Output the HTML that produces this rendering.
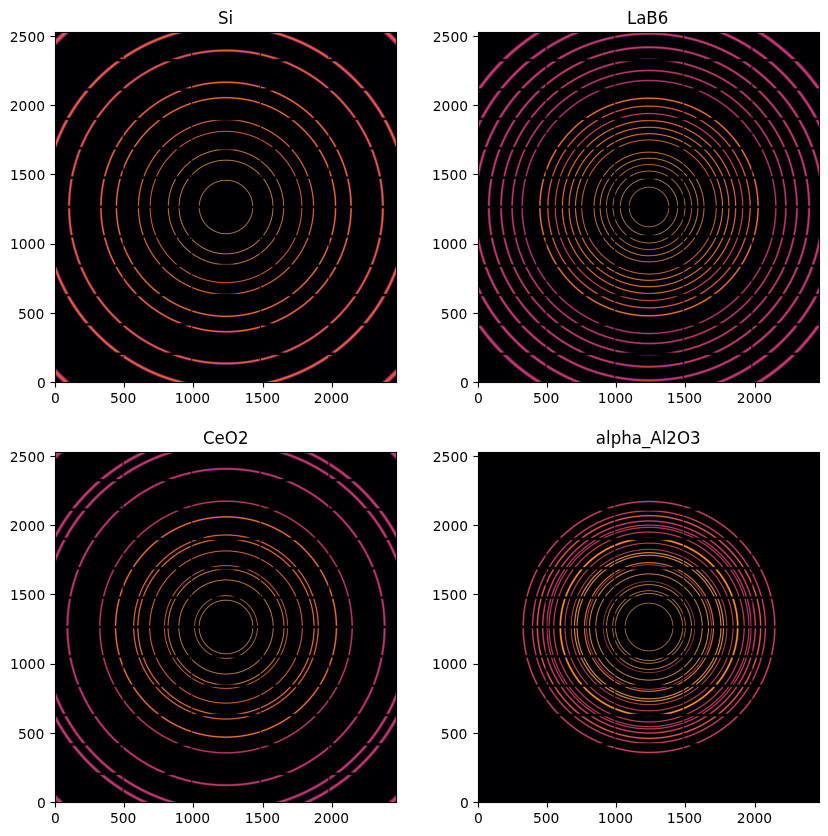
<!DOCTYPE html>
<html lang="en"><head><meta charset="utf-8"><title>Calibrant rings</title>
<style>
html,body{margin:0;padding:0;background:#fff}
body{width:828px;height:836px;position:relative;overflow:hidden;font-family:"DejaVu Sans","Liberation Sans",sans-serif;color:#000}
.ax{position:absolute;width:342px;height:351px;background:#000003}
.im{position:absolute;left:0;top:0;display:block}
.sp{position:absolute;width:344px;height:353px;background:#f1f1f1}
.bd{position:absolute;left:0;top:0;width:340px;height:349px;border:1px solid #000}
.t{position:absolute;white-space:nowrap;line-height:1}
.ti{font-size:16.667px;text-align:center;width:342px;transform-origin:50% 80%;transform:scale(1,1.1)}
.xl{font-size:13.889px;text-align:center;width:60px;margin-left:-30px}
.yl{font-size:13.889px;text-align:right;width:60px}
.xk{position:absolute;width:1px;height:5px;background:linear-gradient(to bottom,#000 0,#000 4px,rgba(0,0,0,.5) 4px);box-shadow:0 0 0 1px rgba(0,0,0,.055)}
.yk{position:absolute;height:1px;width:5px;background:linear-gradient(to left,#000 0,#000 4px,rgba(0,0,0,.5) 4px);box-shadow:0 0 0 1px rgba(0,0,0,.055)}
</style></head>
<body>
<div class="sp" style="left:54px;top:31px"></div>
<div class="ax" style="left:55px;top:32px"><svg class="im" width="342" height="351" viewBox="0 0 342 351"><defs><radialGradient id="g0" gradientUnits="userSpaceOnUse" cx="0" cy="0" r="247.370" gradientTransform="translate(171.000 175.000) scale(1.002533 1)"><stop offset="0.00000" stop-color="#000002"/><stop offset="0.00364" stop-color="#000003"/><stop offset="0.10296" stop-color="#000003"/><stop offset="0.10345" stop-color="#020104"/><stop offset="0.10385" stop-color="#060206"/><stop offset="0.10422" stop-color="#0c0608"/><stop offset="0.10458" stop-color="#150c0c"/><stop offset="0.10490" stop-color="#201310"/><stop offset="0.10527" stop-color="#2e1e16"/><stop offset="0.10559" stop-color="#3e2a1c"/><stop offset="0.10648" stop-color="#6a4b2d"/><stop offset="0.10672" stop-color="#755331"/><stop offset="0.10697" stop-color="#7f5a35"/><stop offset="0.10725" stop-color="#886138"/><stop offset="0.10749" stop-color="#8e653a"/><stop offset="0.10773" stop-color="#91683c"/><stop offset="0.10798" stop-color="#92693c"/><stop offset="0.10822" stop-color="#91683c"/><stop offset="0.10850" stop-color="#8d653a"/><stop offset="0.10874" stop-color="#876038"/><stop offset="0.10903" stop-color="#7d5934"/><stop offset="0.10927" stop-color="#745230"/><stop offset="0.10951" stop-color="#694a2c"/><stop offset="0.11032" stop-color="#402b1d"/><stop offset="0.11064" stop-color="#302017"/><stop offset="0.11101" stop-color="#211411"/><stop offset="0.11133" stop-color="#160d0c"/><stop offset="0.11170" stop-color="#0d0609"/><stop offset="0.11206" stop-color="#060306"/><stop offset="0.11246" stop-color="#020104"/><stop offset="0.11291" stop-color="#000003"/><stop offset="0.18402" stop-color="#000003"/><stop offset="0.18458" stop-color="#020104"/><stop offset="0.18503" stop-color="#060206"/><stop offset="0.18543" stop-color="#0d0509"/><stop offset="0.18583" stop-color="#180c0d"/><stop offset="0.18620" stop-color="#241411"/><stop offset="0.18660" stop-color="#362016"/><stop offset="0.18697" stop-color="#482d1b"/><stop offset="0.18786" stop-color="#794e28"/><stop offset="0.18810" stop-color="#84572c"/><stop offset="0.18834" stop-color="#8f5e2e"/><stop offset="0.18862" stop-color="#996531"/><stop offset="0.18887" stop-color="#9f6933"/><stop offset="0.18911" stop-color="#a36c34"/><stop offset="0.18935" stop-color="#a46d34"/><stop offset="0.18959" stop-color="#a36c34"/><stop offset="0.18988" stop-color="#9e6933"/><stop offset="0.19012" stop-color="#986431"/><stop offset="0.19040" stop-color="#8e5d2e"/><stop offset="0.19065" stop-color="#83562b"/><stop offset="0.19089" stop-color="#774d28"/><stop offset="0.19174" stop-color="#492d1c"/><stop offset="0.19206" stop-color="#392117"/><stop offset="0.19242" stop-color="#281612"/><stop offset="0.19279" stop-color="#1b0d0e"/><stop offset="0.19315" stop-color="#10070a"/><stop offset="0.19352" stop-color="#090307"/><stop offset="0.19388" stop-color="#040106"/><stop offset="0.19428" stop-color="#010004"/><stop offset="0.19509" stop-color="#000003"/><stop offset="0.22715" stop-color="#000003"/><stop offset="0.22772" stop-color="#020004"/><stop offset="0.22820" stop-color="#060207"/><stop offset="0.22844" stop-color="#0a0308"/><stop offset="0.22865" stop-color="#0e050a"/><stop offset="0.22905" stop-color="#190b0d"/><stop offset="0.22945" stop-color="#271311"/><stop offset="0.22986" stop-color="#391e16"/><stop offset="0.23026" stop-color="#4e2b1a"/><stop offset="0.23115" stop-color="#804b24"/><stop offset="0.23139" stop-color="#8d5326"/><stop offset="0.23164" stop-color="#985a28"/><stop offset="0.23192" stop-color="#a2612a"/><stop offset="0.23216" stop-color="#a9652b"/><stop offset="0.23245" stop-color="#ae682c"/><stop offset="0.23269" stop-color="#af692c"/><stop offset="0.23293" stop-color="#ad682c"/><stop offset="0.23321" stop-color="#a9652b"/><stop offset="0.23346" stop-color="#a2612a"/><stop offset="0.23374" stop-color="#975a28"/><stop offset="0.23398" stop-color="#8c5326"/><stop offset="0.23422" stop-color="#804b24"/><stop offset="0.23507" stop-color="#502c1b"/><stop offset="0.23548" stop-color="#3b1f16"/><stop offset="0.23588" stop-color="#281312"/><stop offset="0.23625" stop-color="#1b0c0e"/><stop offset="0.23661" stop-color="#10060b"/><stop offset="0.23701" stop-color="#080308"/><stop offset="0.23742" stop-color="#030106"/><stop offset="0.23790" stop-color="#010004"/><stop offset="0.23875" stop-color="#000003"/><stop offset="0.30000" stop-color="#000003"/><stop offset="0.30064" stop-color="#020005"/><stop offset="0.30113" stop-color="#060208"/><stop offset="0.30137" stop-color="#09030a"/><stop offset="0.30161" stop-color="#0e040c"/><stop offset="0.30186" stop-color="#13060f"/><stop offset="0.30206" stop-color="#190811"/><stop offset="0.30226" stop-color="#200b13"/><stop offset="0.30250" stop-color="#290f16"/><stop offset="0.30295" stop-color="#3e181a"/><stop offset="0.30335" stop-color="#53231e"/><stop offset="0.30432" stop-color="#893d25"/><stop offset="0.30456" stop-color="#964326"/><stop offset="0.30481" stop-color="#a14927"/><stop offset="0.30509" stop-color="#ab4e28"/><stop offset="0.30533" stop-color="#b25129"/><stop offset="0.30562" stop-color="#b6542a"/><stop offset="0.30586" stop-color="#b8542a"/><stop offset="0.30610" stop-color="#b6542a"/><stop offset="0.30638" stop-color="#b25129"/><stop offset="0.30663" stop-color="#ab4e29"/><stop offset="0.30691" stop-color="#a04927"/><stop offset="0.30715" stop-color="#954326"/><stop offset="0.30739" stop-color="#893d25"/><stop offset="0.30832" stop-color="#55231e"/><stop offset="0.30873" stop-color="#3f191b"/><stop offset="0.30913" stop-color="#2c1017"/><stop offset="0.30950" stop-color="#1e0a13"/><stop offset="0.30986" stop-color="#13060f"/><stop offset="0.31026" stop-color="#0a030b"/><stop offset="0.31067" stop-color="#050107"/><stop offset="0.31111" stop-color="#010005"/><stop offset="0.31152" stop-color="#000003"/><stop offset="0.31216" stop-color="#000003"/><stop offset="0.34673" stop-color="#000003"/><stop offset="0.34741" stop-color="#020005"/><stop offset="0.34794" stop-color="#060209"/><stop offset="0.34818" stop-color="#0a030b"/><stop offset="0.34843" stop-color="#0f040e"/><stop offset="0.34867" stop-color="#150610"/><stop offset="0.34891" stop-color="#1c0913"/><stop offset="0.34911" stop-color="#230c16"/><stop offset="0.34936" stop-color="#2d1019"/><stop offset="0.34960" stop-color="#38151b"/><stop offset="0.34984" stop-color="#441b1e"/><stop offset="0.35016" stop-color="#552421"/><stop offset="0.35057" stop-color="#6d3023"/><stop offset="0.35134" stop-color="#994925"/><stop offset="0.35162" stop-color="#a85126"/><stop offset="0.35186" stop-color="#b45826"/><stop offset="0.35214" stop-color="#bf5e26"/><stop offset="0.35243" stop-color="#c76326"/><stop offset="0.35271" stop-color="#cc6526"/><stop offset="0.35299" stop-color="#ce6626"/><stop offset="0.35328" stop-color="#cc6526"/><stop offset="0.35356" stop-color="#c76226"/><stop offset="0.35384" stop-color="#be5e26"/><stop offset="0.35413" stop-color="#b35726"/><stop offset="0.35437" stop-color="#a85126"/><stop offset="0.35465" stop-color="#994826"/><stop offset="0.35542" stop-color="#6c2f24"/><stop offset="0.35578" stop-color="#572421"/><stop offset="0.35611" stop-color="#461c1f"/><stop offset="0.35655" stop-color="#30121a"/><stop offset="0.35679" stop-color="#260d17"/><stop offset="0.35700" stop-color="#1f0a14"/><stop offset="0.35720" stop-color="#180812"/><stop offset="0.35744" stop-color="#12050f"/><stop offset="0.35764" stop-color="#0d040d"/><stop offset="0.35788" stop-color="#09020a"/><stop offset="0.35837" stop-color="#030106"/><stop offset="0.35890" stop-color="#010004"/><stop offset="0.35987" stop-color="#000003"/><stop offset="0.43469" stop-color="#000003"/><stop offset="0.43546" stop-color="#020005"/><stop offset="0.43574" stop-color="#040107"/><stop offset="0.43603" stop-color="#06020a"/><stop offset="0.43631" stop-color="#0a030d"/><stop offset="0.43655" stop-color="#0f0410"/><stop offset="0.43684" stop-color="#160614"/><stop offset="0.43708" stop-color="#1d0818"/><stop offset="0.43744" stop-color="#2a0d1e"/><stop offset="0.43785" stop-color="#3c1424"/><stop offset="0.43829" stop-color="#521e29"/><stop offset="0.43882" stop-color="#702c2d"/><stop offset="0.43926" stop-color="#89392e"/><stop offset="0.43975" stop-color="#a4492d"/><stop offset="0.44007" stop-color="#b5532b"/><stop offset="0.44039" stop-color="#c45c29"/><stop offset="0.44076" stop-color="#d16526"/><stop offset="0.44112" stop-color="#dc6c23"/><stop offset="0.44132" stop-color="#e06e22"/><stop offset="0.44148" stop-color="#e27022"/><stop offset="0.44181" stop-color="#e47121"/><stop offset="0.44213" stop-color="#e27022"/><stop offset="0.44229" stop-color="#e06e22"/><stop offset="0.44250" stop-color="#dc6c23"/><stop offset="0.44286" stop-color="#d26526"/><stop offset="0.44322" stop-color="#c45c29"/><stop offset="0.44351" stop-color="#b7542c"/><stop offset="0.44383" stop-color="#a74a2e"/><stop offset="0.44431" stop-color="#8c3a2f"/><stop offset="0.44476" stop-color="#722d2e"/><stop offset="0.44524" stop-color="#571f2a"/><stop offset="0.44569" stop-color="#401525"/><stop offset="0.44605" stop-color="#300f20"/><stop offset="0.44642" stop-color="#220a1a"/><stop offset="0.44682" stop-color="#150614"/><stop offset="0.44727" stop-color="#0b030e"/><stop offset="0.44771" stop-color="#050109"/><stop offset="0.44824" stop-color="#010005"/><stop offset="0.44876" stop-color="#000003"/><stop offset="0.44945" stop-color="#000003"/><stop offset="0.49658" stop-color="#000003"/><stop offset="0.49735" stop-color="#020005"/><stop offset="0.49768" stop-color="#030108"/><stop offset="0.49796" stop-color="#06010a"/><stop offset="0.49824" stop-color="#0a020e"/><stop offset="0.49852" stop-color="#0f0412"/><stop offset="0.49881" stop-color="#150516"/><stop offset="0.49905" stop-color="#1c071b"/><stop offset="0.49945" stop-color="#2a0c22"/><stop offset="0.49990" stop-color="#3c122a"/><stop offset="0.50046" stop-color="#581c32"/><stop offset="0.50099" stop-color="#742937"/><stop offset="0.50135" stop-color="#883239"/><stop offset="0.50176" stop-color="#9e3d38"/><stop offset="0.50224" stop-color="#b64b35"/><stop offset="0.50265" stop-color="#c75531"/><stop offset="0.50289" stop-color="#d05b2e"/><stop offset="0.50309" stop-color="#d65f2c"/><stop offset="0.50350" stop-color="#e06628"/><stop offset="0.50390" stop-color="#e56a25"/><stop offset="0.50431" stop-color="#e76c23"/><stop offset="0.50471" stop-color="#e56a25"/><stop offset="0.50511" stop-color="#df6628"/><stop offset="0.50552" stop-color="#d65f2c"/><stop offset="0.50572" stop-color="#cf5b2f"/><stop offset="0.50596" stop-color="#c75532"/><stop offset="0.50637" stop-color="#b64a36"/><stop offset="0.50685" stop-color="#9e3d39"/><stop offset="0.50726" stop-color="#883239"/><stop offset="0.50762" stop-color="#742838"/><stop offset="0.50811" stop-color="#5a1d33"/><stop offset="0.50867" stop-color="#3e122b"/><stop offset="0.50912" stop-color="#2b0c23"/><stop offset="0.50952" stop-color="#1d081c"/><stop offset="0.50976" stop-color="#170618"/><stop offset="0.51001" stop-color="#110414"/><stop offset="0.51025" stop-color="#0c0310"/><stop offset="0.51053" stop-color="#08020c"/><stop offset="0.51081" stop-color="#050109"/><stop offset="0.51110" stop-color="#020107"/><stop offset="0.51182" stop-color="#000004"/><stop offset="0.62243" stop-color="#000003"/><stop offset="0.62336" stop-color="#000003"/><stop offset="0.62388" stop-color="#010004"/><stop offset="0.62449" stop-color="#030108"/><stop offset="0.62510" stop-color="#08020f"/><stop offset="0.62562" stop-color="#110417"/><stop offset="0.62590" stop-color="#17051d"/><stop offset="0.62615" stop-color="#1d0722"/><stop offset="0.62663" stop-color="#2d0b2d"/><stop offset="0.62716" stop-color="#411138"/><stop offset="0.62756" stop-color="#531640"/><stop offset="0.62793" stop-color="#641c45"/><stop offset="0.62825" stop-color="#732149"/><stop offset="0.62857" stop-color="#83274b"/><stop offset="0.62910" stop-color="#9b324b"/><stop offset="0.62962" stop-color="#b13c48"/><stop offset="0.63011" stop-color="#c24643"/><stop offset="0.63055" stop-color="#ce4e3d"/><stop offset="0.63104" stop-color="#d95536"/><stop offset="0.63152" stop-color="#e05b31"/><stop offset="0.63205" stop-color="#e55f2d"/><stop offset="0.63257" stop-color="#e6602c"/><stop offset="0.63310" stop-color="#e45f2d"/><stop offset="0.63363" stop-color="#e05b31"/><stop offset="0.63411" stop-color="#d85537"/><stop offset="0.63460" stop-color="#ce4d3d"/><stop offset="0.63504" stop-color="#c14543"/><stop offset="0.63553" stop-color="#b13c49"/><stop offset="0.63609" stop-color="#99314c"/><stop offset="0.63662" stop-color="#81274c"/><stop offset="0.63694" stop-color="#722149"/><stop offset="0.63726" stop-color="#621b46"/><stop offset="0.63763" stop-color="#521640"/><stop offset="0.63803" stop-color="#401038"/><stop offset="0.63852" stop-color="#2d0b2e"/><stop offset="0.63900" stop-color="#1e0723"/><stop offset="0.63949" stop-color="#120419"/><stop offset="0.64001" stop-color="#090210"/><stop offset="0.64054" stop-color="#040109"/><stop offset="0.64114" stop-color="#010005"/><stop offset="0.64171" stop-color="#000003"/><stop offset="0.64264" stop-color="#000003"/><stop offset="0.72042" stop-color="#000003"/><stop offset="0.72123" stop-color="#010006"/><stop offset="0.72159" stop-color="#030108"/><stop offset="0.72195" stop-color="#05010c"/><stop offset="0.72228" stop-color="#090211"/><stop offset="0.72256" stop-color="#0d0315"/><stop offset="0.72288" stop-color="#12041c"/><stop offset="0.72317" stop-color="#180622"/><stop offset="0.72345" stop-color="#200728"/><stop offset="0.72373" stop-color="#28092f"/><stop offset="0.72430" stop-color="#3b0e3c"/><stop offset="0.72478" stop-color="#4e1446"/><stop offset="0.72519" stop-color="#60194d"/><stop offset="0.72559" stop-color="#711e52"/><stop offset="0.72600" stop-color="#822554"/><stop offset="0.72628" stop-color="#8e2954"/><stop offset="0.72660" stop-color="#9b2f54"/><stop offset="0.72693" stop-color="#a73451"/><stop offset="0.72725" stop-color="#b23a4e"/><stop offset="0.72782" stop-color="#c34347"/><stop offset="0.72842" stop-color="#d14d3e"/><stop offset="0.72907" stop-color="#dc5635"/><stop offset="0.72972" stop-color="#e45e2e"/><stop offset="0.73044" stop-color="#e96329"/><stop offset="0.73117" stop-color="#ea6527"/><stop offset="0.73186" stop-color="#e96329"/><stop offset="0.73259" stop-color="#e45e2e"/><stop offset="0.73327" stop-color="#dc5635"/><stop offset="0.73392" stop-color="#d14d3e"/><stop offset="0.73453" stop-color="#c34347"/><stop offset="0.73509" stop-color="#b33a4e"/><stop offset="0.73546" stop-color="#a73352"/><stop offset="0.73578" stop-color="#9b2e54"/><stop offset="0.73610" stop-color="#8e2955"/><stop offset="0.73639" stop-color="#822455"/><stop offset="0.73667" stop-color="#762053"/><stop offset="0.73695" stop-color="#6a1c51"/><stop offset="0.73752" stop-color="#521548"/><stop offset="0.73800" stop-color="#3f0f3f"/><stop offset="0.73841" stop-color="#300b35"/><stop offset="0.73881" stop-color="#24082c"/><stop offset="0.73918" stop-color="#1a0623"/><stop offset="0.73946" stop-color="#14051d"/><stop offset="0.73974" stop-color="#0e0318"/><stop offset="0.74031" stop-color="#07020e"/><stop offset="0.74063" stop-color="#04010a"/><stop offset="0.74100" stop-color="#020107"/><stop offset="0.74172" stop-color="#000004"/><stop offset="0.74330" stop-color="#000003"/><stop offset="0.94049" stop-color="#000003"/><stop offset="0.94207" stop-color="#000003"/><stop offset="0.94284" stop-color="#000005"/><stop offset="0.94353" stop-color="#020108"/><stop offset="0.94417" stop-color="#06020f"/><stop offset="0.94450" stop-color="#090214"/><stop offset="0.94486" stop-color="#0d031a"/><stop offset="0.94551" stop-color="#180528"/><stop offset="0.94595" stop-color="#220833"/><stop offset="0.94640" stop-color="#2d0a3e"/><stop offset="0.94696" stop-color="#3d0e4b"/><stop offset="0.94745" stop-color="#4c1155"/><stop offset="0.94781" stop-color="#58145b"/><stop offset="0.94813" stop-color="#62175f"/><stop offset="0.94846" stop-color="#6c1a62"/><stop offset="0.94878" stop-color="#761d63"/><stop offset="0.94919" stop-color="#822064"/><stop offset="0.94963" stop-color="#8e2562"/><stop offset="0.95016" stop-color="#9b2a5f"/><stop offset="0.95072" stop-color="#a8305a"/><stop offset="0.95121" stop-color="#b23456"/><stop offset="0.95173" stop-color="#bb3951"/><stop offset="0.95222" stop-color="#c33e4c"/><stop offset="0.95274" stop-color="#cb4347"/><stop offset="0.95375" stop-color="#d64c3e"/><stop offset="0.95484" stop-color="#de5436"/><stop offset="0.95606" stop-color="#e35931"/><stop offset="0.95719" stop-color="#e45b2f"/><stop offset="0.95836" stop-color="#e35931"/><stop offset="0.95957" stop-color="#de5337"/><stop offset="0.96067" stop-color="#d54c3e"/><stop offset="0.96168" stop-color="#ca4347"/><stop offset="0.96220" stop-color="#c33e4c"/><stop offset="0.96273" stop-color="#bb3951"/><stop offset="0.96321" stop-color="#b23456"/><stop offset="0.96374" stop-color="#a82f5b"/><stop offset="0.96430" stop-color="#9b2a5f"/><stop offset="0.96487" stop-color="#8d2463"/><stop offset="0.96532" stop-color="#822064"/><stop offset="0.96572" stop-color="#761c64"/><stop offset="0.96604" stop-color="#6d1a63"/><stop offset="0.96637" stop-color="#631760"/><stop offset="0.96669" stop-color="#58145c"/><stop offset="0.96701" stop-color="#4e1257"/><stop offset="0.96746" stop-color="#410e4f"/><stop offset="0.96794" stop-color="#330b44"/><stop offset="0.96867" stop-color="#200732"/><stop offset="0.96920" stop-color="#150526"/><stop offset="0.96968" stop-color="#0d031b"/><stop offset="0.97025" stop-color="#070211"/><stop offset="0.97077" stop-color="#03010b"/><stop offset="0.97122" stop-color="#010107"/><stop offset="0.97166" stop-color="#000005"/><stop offset="0.97287" stop-color="#000003"/><stop offset="0.99673" stop-color="#000003"/><stop offset="1.00000" stop-color="#000002"/></radialGradient></defs><rect width="342" height="351" fill="url(#g0)"/><svg x="67" y="0" width="1" height="351" viewBox="67 0 1 351"><rect x="-2" y="-2" width="346" height="355" fill="#000003"/><rect x="-2" y="-2" width="346" height="355" fill="url(#g0)" transform="translate(0.228 0)" fill-opacity="0.621"/></svg><svg x="68" y="0" width="1" height="351" viewBox="68 0 1 351"><rect x="-2" y="-2" width="346" height="355" fill="#000003"/><rect x="-2" y="-2" width="346" height="355" fill="url(#g0)" transform="translate(-0.355 0)" fill-opacity="0.406"/></svg><svg x="135" y="0" width="1" height="351" viewBox="135 0 1 351"><rect x="-2" y="-2" width="346" height="355" fill="#000003"/><rect x="-2" y="-2" width="346" height="355" fill="url(#g0)" transform="translate(0.014 0)" fill-opacity="0.982"/></svg><svg x="136" y="0" width="1" height="351" viewBox="136 0 1 351"><rect x="-2" y="-2" width="346" height="355" fill="#000003"/><rect x="-2" y="-2" width="346" height="355" fill="url(#g0)" transform="translate(0.479 0)" fill-opacity="0.240"/><rect x="-2" y="-2" width="346" height="355" fill="url(#g0)" transform="translate(-0.768 0)" fill-opacity="0.024"/></svg><svg x="137" y="0" width="1" height="351" viewBox="137 0 1 351"><rect x="-2" y="-2" width="346" height="355" fill="#000003"/><rect x="-2" y="-2" width="346" height="355" fill="url(#g0)" transform="translate(-0.134 0)" fill-opacity="0.788"/></svg><svg x="204" y="0" width="1" height="351" viewBox="204 0 1 351"><rect x="-2" y="-2" width="346" height="355" fill="#000003"/><rect x="-2" y="-2" width="346" height="355" fill="url(#g0)" transform="translate(0.134 0)" fill-opacity="0.788"/></svg><svg x="205" y="0" width="1" height="351" viewBox="205 0 1 351"><rect x="-2" y="-2" width="346" height="355" fill="#000003"/><rect x="-2" y="-2" width="346" height="355" fill="url(#g0)" transform="translate(0.768 0)" fill-opacity="0.031"/><rect x="-2" y="-2" width="346" height="355" fill="url(#g0)" transform="translate(-0.479 0)" fill-opacity="0.235"/></svg><svg x="206" y="0" width="1" height="351" viewBox="206 0 1 351"><rect x="-2" y="-2" width="346" height="355" fill="#000003"/><rect x="-2" y="-2" width="346" height="355" fill="url(#g0)" transform="translate(-0.014 0)" fill-opacity="0.982"/></svg><svg x="273" y="0" width="1" height="351" viewBox="273 0 1 351"><rect x="-2" y="-2" width="346" height="355" fill="#000003"/><rect x="-2" y="-2" width="346" height="355" fill="url(#g0)" transform="translate(0.355 0)" fill-opacity="0.406"/></svg><svg x="274" y="0" width="1" height="351" viewBox="274 0 1 351"><rect x="-2" y="-2" width="346" height="355" fill="#000003"/><rect x="-2" y="-2" width="346" height="355" fill="url(#g0)" transform="translate(-0.228 0)" fill-opacity="0.621"/></svg><svg x="0" y="320" width="342" height="1" viewBox="0 320 342 1"><rect x="-2" y="-2" width="346" height="355" fill="#000003"/><rect x="-2" y="-2" width="346" height="355" fill="url(#g0)" transform="translate(0 0.220)" fill-opacity="0.635"/></svg><svg x="0" y="321" width="342" height="1" viewBox="0 321 342 1"><rect x="-2" y="-2" width="346" height="355" fill="#000003"/></svg><svg x="0" y="322" width="342" height="1" viewBox="0 322 342 1"><rect x="-2" y="-2" width="346" height="355" fill="#000003"/><rect x="-2" y="-2" width="346" height="355" fill="url(#g0)" transform="translate(0 -0.624)" fill-opacity="0.095"/></svg><svg x="0" y="323" width="342" height="1" viewBox="0 323 342 1"><rect x="-2" y="-2" width="346" height="355" fill="#000003"/><rect x="-2" y="-2" width="346" height="355" fill="url(#g0)" transform="translate(0 -0.060)" fill-opacity="0.913"/></svg><svg x="0" y="290" width="342" height="1" viewBox="0 290 342 1"><rect x="-2" y="-2" width="346" height="355" fill="#000003"/><rect x="-2" y="-2" width="346" height="355" fill="url(#g0)" transform="translate(0 0.008)" fill-opacity="0.991"/></svg><svg x="0" y="291" width="342" height="1" viewBox="0 291 342 1"><rect x="-2" y="-2" width="346" height="355" fill="#000003"/><rect x="-2" y="-2" width="346" height="355" fill="url(#g0)" transform="translate(0 0.440)" fill-opacity="0.283"/></svg><svg x="0" y="292" width="342" height="1" viewBox="0 292 342 1"><rect x="-2" y="-2" width="346" height="355" fill="#000003"/></svg><svg x="0" y="293" width="342" height="1" viewBox="0 293 342 1"><rect x="-2" y="-2" width="346" height="355" fill="#000003"/><rect x="-2" y="-2" width="346" height="355" fill="url(#g0)" transform="translate(0 -0.377)" fill-opacity="0.373"/></svg><svg x="0" y="261" width="342" height="1" viewBox="0 261 342 1"><rect x="-2" y="-2" width="346" height="355" fill="#000003"/><rect x="-2" y="-2" width="346" height="355" fill="url(#g0)" transform="translate(0 0.093)" fill-opacity="0.859"/></svg><svg x="0" y="262" width="342" height="1" viewBox="0 262 342 1"><rect x="-2" y="-2" width="346" height="355" fill="#000003"/><rect x="-2" y="-2" width="346" height="355" fill="url(#g0)" transform="translate(0 0.694)" fill-opacity="0.053"/></svg><svg x="0" y="263" width="342" height="1" viewBox="0 263 342 1"><rect x="-2" y="-2" width="346" height="355" fill="#000003"/><rect x="-2" y="-2" width="346" height="355" fill="url(#g0)" transform="translate(0 -0.825)" fill-opacity="0.010"/></svg><svg x="0" y="264" width="342" height="1" viewBox="0 264 342 1"><rect x="-2" y="-2" width="346" height="355" fill="#000003"/><rect x="-2" y="-2" width="346" height="355" fill="url(#g0)" transform="translate(0 -0.170)" fill-opacity="0.724"/></svg><svg x="0" y="232" width="342" height="1" viewBox="0 232 342 1"><rect x="-2" y="-2" width="346" height="355" fill="#000003"/><rect x="-2" y="-2" width="346" height="355" fill="url(#g0)" transform="translate(0 0.269)" fill-opacity="0.548"/></svg><svg x="0" y="233" width="342" height="1" viewBox="0 233 342 1"><rect x="-2" y="-2" width="346" height="355" fill="#000003"/></svg><svg x="0" y="234" width="342" height="1" viewBox="0 234 342 1"><rect x="-2" y="-2" width="346" height="355" fill="#000003"/><rect x="-2" y="-2" width="346" height="355" fill="url(#g0)" transform="translate(0 -0.561)" fill-opacity="0.147"/></svg><svg x="0" y="235" width="342" height="1" viewBox="0 235 342 1"><rect x="-2" y="-2" width="346" height="355" fill="#000003"/><rect x="-2" y="-2" width="346" height="355" fill="url(#g0)" transform="translate(0 -0.037)" fill-opacity="0.950"/></svg><svg x="0" y="202" width="342" height="1" viewBox="0 202 342 1"><rect x="-2" y="-2" width="346" height="355" fill="#000003"/><rect x="-2" y="-2" width="346" height="355" fill="url(#g0)" transform="translate(0 0.019)" fill-opacity="0.976"/></svg><svg x="0" y="203" width="342" height="1" viewBox="0 203 342 1"><rect x="-2" y="-2" width="346" height="355" fill="#000003"/><rect x="-2" y="-2" width="346" height="355" fill="url(#g0)" transform="translate(0 0.500)" fill-opacity="0.210"/></svg><svg x="0" y="204" width="342" height="1" viewBox="0 204 342 1"><rect x="-2" y="-2" width="346" height="355" fill="#000003"/></svg><svg x="0" y="205" width="342" height="1" viewBox="0 205 342 1"><rect x="-2" y="-2" width="346" height="355" fill="#000003"/><rect x="-2" y="-2" width="346" height="355" fill="url(#g0)" transform="translate(0 -0.322)" fill-opacity="0.460"/></svg><svg x="0" y="173" width="342" height="1" viewBox="0 173 342 1"><rect x="-2" y="-2" width="346" height="355" fill="#000003"/><rect x="-2" y="-2" width="346" height="355" fill="url(#g0)" transform="translate(0 0.129)" fill-opacity="0.796"/></svg><svg x="0" y="174" width="342" height="1" viewBox="0 174 342 1"><rect x="-2" y="-2" width="346" height="355" fill="#000003"/><rect x="-2" y="-2" width="346" height="355" fill="url(#g0)" transform="translate(0 0.759)" fill-opacity="0.026"/></svg><svg x="0" y="175" width="342" height="1" viewBox="0 175 342 1"><rect x="-2" y="-2" width="346" height="355" fill="#000003"/><rect x="-2" y="-2" width="346" height="355" fill="url(#g0)" transform="translate(0 -0.759)" fill-opacity="0.026"/></svg><svg x="0" y="176" width="342" height="1" viewBox="0 176 342 1"><rect x="-2" y="-2" width="346" height="355" fill="#000003"/><rect x="-2" y="-2" width="346" height="355" fill="url(#g0)" transform="translate(0 -0.129)" fill-opacity="0.796"/></svg><svg x="0" y="144" width="342" height="1" viewBox="0 144 342 1"><rect x="-2" y="-2" width="346" height="355" fill="#000003"/><rect x="-2" y="-2" width="346" height="355" fill="url(#g0)" transform="translate(0 0.322)" fill-opacity="0.460"/></svg><svg x="0" y="145" width="342" height="1" viewBox="0 145 342 1"><rect x="-2" y="-2" width="346" height="355" fill="#000003"/></svg><svg x="0" y="146" width="342" height="1" viewBox="0 146 342 1"><rect x="-2" y="-2" width="346" height="355" fill="#000003"/><rect x="-2" y="-2" width="346" height="355" fill="url(#g0)" transform="translate(0 -0.500)" fill-opacity="0.210"/></svg><svg x="0" y="147" width="342" height="1" viewBox="0 147 342 1"><rect x="-2" y="-2" width="346" height="355" fill="#000003"/><rect x="-2" y="-2" width="346" height="355" fill="url(#g0)" transform="translate(0 -0.019)" fill-opacity="0.976"/></svg><svg x="0" y="114" width="342" height="1" viewBox="0 114 342 1"><rect x="-2" y="-2" width="346" height="355" fill="#000003"/><rect x="-2" y="-2" width="346" height="355" fill="url(#g0)" transform="translate(0 0.037)" fill-opacity="0.950"/></svg><svg x="0" y="115" width="342" height="1" viewBox="0 115 342 1"><rect x="-2" y="-2" width="346" height="355" fill="#000003"/><rect x="-2" y="-2" width="346" height="355" fill="url(#g0)" transform="translate(0 0.561)" fill-opacity="0.147"/></svg><svg x="0" y="116" width="342" height="1" viewBox="0 116 342 1"><rect x="-2" y="-2" width="346" height="355" fill="#000003"/></svg><svg x="0" y="117" width="342" height="1" viewBox="0 117 342 1"><rect x="-2" y="-2" width="346" height="355" fill="#000003"/><rect x="-2" y="-2" width="346" height="355" fill="url(#g0)" transform="translate(0 -0.269)" fill-opacity="0.548"/></svg><svg x="0" y="85" width="342" height="1" viewBox="0 85 342 1"><rect x="-2" y="-2" width="346" height="355" fill="#000003"/><rect x="-2" y="-2" width="346" height="355" fill="url(#g0)" transform="translate(0 0.170)" fill-opacity="0.724"/></svg><svg x="0" y="86" width="342" height="1" viewBox="0 86 342 1"><rect x="-2" y="-2" width="346" height="355" fill="#000003"/><rect x="-2" y="-2" width="346" height="355" fill="url(#g0)" transform="translate(0 0.825)" fill-opacity="0.010"/></svg><svg x="0" y="87" width="342" height="1" viewBox="0 87 342 1"><rect x="-2" y="-2" width="346" height="355" fill="#000003"/><rect x="-2" y="-2" width="346" height="355" fill="url(#g0)" transform="translate(0 -0.694)" fill-opacity="0.053"/></svg><svg x="0" y="88" width="342" height="1" viewBox="0 88 342 1"><rect x="-2" y="-2" width="346" height="355" fill="#000003"/><rect x="-2" y="-2" width="346" height="355" fill="url(#g0)" transform="translate(0 -0.093)" fill-opacity="0.859"/></svg><svg x="0" y="56" width="342" height="1" viewBox="0 56 342 1"><rect x="-2" y="-2" width="346" height="355" fill="#000003"/><rect x="-2" y="-2" width="346" height="355" fill="url(#g0)" transform="translate(0 0.377)" fill-opacity="0.373"/></svg><svg x="0" y="57" width="342" height="1" viewBox="0 57 342 1"><rect x="-2" y="-2" width="346" height="355" fill="#000003"/></svg><svg x="0" y="58" width="342" height="1" viewBox="0 58 342 1"><rect x="-2" y="-2" width="346" height="355" fill="#000003"/><rect x="-2" y="-2" width="346" height="355" fill="url(#g0)" transform="translate(0 -0.440)" fill-opacity="0.283"/></svg><svg x="0" y="59" width="342" height="1" viewBox="0 59 342 1"><rect x="-2" y="-2" width="346" height="355" fill="#000003"/><rect x="-2" y="-2" width="346" height="355" fill="url(#g0)" transform="translate(0 -0.008)" fill-opacity="0.991"/></svg><svg x="0" y="26" width="342" height="1" viewBox="0 26 342 1"><rect x="-2" y="-2" width="346" height="355" fill="#000003"/><rect x="-2" y="-2" width="346" height="355" fill="url(#g0)" transform="translate(0 0.060)" fill-opacity="0.913"/></svg><svg x="0" y="27" width="342" height="1" viewBox="0 27 342 1"><rect x="-2" y="-2" width="346" height="355" fill="#000003"/><rect x="-2" y="-2" width="346" height="355" fill="url(#g0)" transform="translate(0 0.624)" fill-opacity="0.095"/></svg><svg x="0" y="28" width="342" height="1" viewBox="0 28 342 1"><rect x="-2" y="-2" width="346" height="355" fill="#000003"/></svg><svg x="0" y="29" width="342" height="1" viewBox="0 29 342 1"><rect x="-2" y="-2" width="346" height="355" fill="#000003"/><rect x="-2" y="-2" width="346" height="355" fill="url(#g0)" transform="translate(0 -0.220)" fill-opacity="0.635"/></svg></svg><div class="bd"></div></div>
<div class="t ti" style="left:54.52px;top:11.00px">Si</div>
<div class="xk" style="left:55px;top:383px"></div>
<div class="t xl" style="left:55.40px;top:392.07px">0</div>
<div class="xk" style="left:124px;top:383px"></div>
<div class="t xl" style="left:123.15px;top:392.07px">500</div>
<div class="xk" style="left:193px;top:383px"></div>
<div class="t xl" style="left:192.53px;top:392.07px">1000</div>
<div class="xk" style="left:263px;top:383px"></div>
<div class="t xl" style="left:262.52px;top:392.07px">1500</div>
<div class="xk" style="left:332px;top:383px"></div>
<div class="t xl" style="left:331.52px;top:392.07px">2000</div>
<div class="yk" style="left:50px;top:382px"></div>
<div class="t yl" style="left:-14.28px;top:377.07px">0</div>
<div class="yk" style="left:50px;top:313px"></div>
<div class="t yl" style="left:-15.65px;top:308.07px">500</div>
<div class="yk" style="left:50px;top:244px"></div>
<div class="t yl" style="left:-14.78px;top:238.07px">1000</div>
<div class="yk" style="left:50px;top:174px"></div>
<div class="t yl" style="left:-14.78px;top:169.07px">1500</div>
<div class="yk" style="left:50px;top:105px"></div>
<div class="t yl" style="left:-14.90px;top:100.07px">2000</div>
<div class="yk" style="left:50px;top:36px"></div>
<div class="t yl" style="left:-14.90px;top:31.07px">2500</div>
<div class="sp" style="left:477px;top:31px"></div>
<div class="ax" style="left:478px;top:32px"><svg class="im" width="342" height="351" viewBox="0 0 342 351"><defs><radialGradient id="g1" gradientUnits="userSpaceOnUse" cx="0" cy="0" r="247.370" gradientTransform="translate(171.000 175.000) scale(1.002533 1)"><stop offset="0.00000" stop-color="#000002"/><stop offset="0.00356" stop-color="#000003"/><stop offset="0.07519" stop-color="#000003"/><stop offset="0.07564" stop-color="#020104"/><stop offset="0.07600" stop-color="#050206"/><stop offset="0.07636" stop-color="#0b0608"/><stop offset="0.07673" stop-color="#140b0b"/><stop offset="0.07705" stop-color="#1e120f"/><stop offset="0.07737" stop-color="#2b1b13"/><stop offset="0.07770" stop-color="#3a2618"/><stop offset="0.07855" stop-color="#624326"/><stop offset="0.07879" stop-color="#6d4a29"/><stop offset="0.07903" stop-color="#76512d"/><stop offset="0.07931" stop-color="#7f572f"/><stop offset="0.07956" stop-color="#845b31"/><stop offset="0.07980" stop-color="#885d33"/><stop offset="0.08004" stop-color="#895e33"/><stop offset="0.08028" stop-color="#885e33"/><stop offset="0.08057" stop-color="#845b31"/><stop offset="0.08081" stop-color="#7f572f"/><stop offset="0.08109" stop-color="#76512d"/><stop offset="0.08134" stop-color="#6d4a29"/><stop offset="0.08158" stop-color="#624326"/><stop offset="0.08243" stop-color="#3a2618"/><stop offset="0.08275" stop-color="#2b1b13"/><stop offset="0.08307" stop-color="#1e120f"/><stop offset="0.08336" stop-color="#150c0c"/><stop offset="0.08364" stop-color="#0e0709"/><stop offset="0.08396" stop-color="#080307"/><stop offset="0.08429" stop-color="#040105"/><stop offset="0.08465" stop-color="#010004"/><stop offset="0.08542" stop-color="#000003"/><stop offset="0.11081" stop-color="#000003"/><stop offset="0.11129" stop-color="#020104"/><stop offset="0.11170" stop-color="#060206"/><stop offset="0.11206" stop-color="#0c0608"/><stop offset="0.11242" stop-color="#150c0c"/><stop offset="0.11275" stop-color="#1f1310"/><stop offset="0.11311" stop-color="#2e1e16"/><stop offset="0.11347" stop-color="#402b1c"/><stop offset="0.11432" stop-color="#6b4b2d"/><stop offset="0.11457" stop-color="#765431"/><stop offset="0.11481" stop-color="#805b35"/><stop offset="0.11509" stop-color="#896238"/><stop offset="0.11533" stop-color="#8f663b"/><stop offset="0.11562" stop-color="#93693c"/><stop offset="0.11586" stop-color="#946a3d"/><stop offset="0.11610" stop-color="#93693c"/><stop offset="0.11634" stop-color="#8f663b"/><stop offset="0.11659" stop-color="#896239"/><stop offset="0.11687" stop-color="#805b35"/><stop offset="0.11711" stop-color="#765431"/><stop offset="0.11735" stop-color="#6b4b2d"/><stop offset="0.11820" stop-color="#402b1d"/><stop offset="0.11853" stop-color="#302017"/><stop offset="0.11885" stop-color="#231511"/><stop offset="0.11913" stop-color="#190e0d"/><stop offset="0.11942" stop-color="#11090a"/><stop offset="0.11974" stop-color="#0a0407"/><stop offset="0.12006" stop-color="#050206"/><stop offset="0.12043" stop-color="#020104"/><stop offset="0.12079" stop-color="#000003"/><stop offset="0.12128" stop-color="#000003"/><stop offset="0.14015" stop-color="#000003"/><stop offset="0.14068" stop-color="#020104"/><stop offset="0.14108" stop-color="#060206"/><stop offset="0.14149" stop-color="#0c0508"/><stop offset="0.14185" stop-color="#150b0c"/><stop offset="0.14222" stop-color="#22130f"/><stop offset="0.14258" stop-color="#311d14"/><stop offset="0.14290" stop-color="#402818"/><stop offset="0.14375" stop-color="#6c4524"/><stop offset="0.14399" stop-color="#774d27"/><stop offset="0.14424" stop-color="#81542a"/><stop offset="0.14452" stop-color="#8a5a2d"/><stop offset="0.14476" stop-color="#905e2f"/><stop offset="0.14505" stop-color="#946130"/><stop offset="0.14529" stop-color="#956230"/><stop offset="0.14553" stop-color="#946130"/><stop offset="0.14581" stop-color="#905e2e"/><stop offset="0.14606" stop-color="#8a5a2d"/><stop offset="0.14634" stop-color="#80532a"/><stop offset="0.14658" stop-color="#764c27"/><stop offset="0.14682" stop-color="#6b4524"/><stop offset="0.14763" stop-color="#412818"/><stop offset="0.14796" stop-color="#321e14"/><stop offset="0.14828" stop-color="#241410"/><stop offset="0.14856" stop-color="#1a0e0d"/><stop offset="0.14885" stop-color="#11080a"/><stop offset="0.14917" stop-color="#0a0408"/><stop offset="0.14949" stop-color="#050206"/><stop offset="0.14982" stop-color="#020105"/><stop offset="0.15018" stop-color="#010004"/><stop offset="0.15071" stop-color="#000003"/><stop offset="0.16671" stop-color="#000003"/><stop offset="0.16724" stop-color="#020004"/><stop offset="0.16768" stop-color="#050206"/><stop offset="0.16809" stop-color="#0c0509"/><stop offset="0.16845" stop-color="#150a0b"/><stop offset="0.16882" stop-color="#21110f"/><stop offset="0.16918" stop-color="#301a12"/><stop offset="0.16954" stop-color="#422516"/><stop offset="0.17043" stop-color="#704220"/><stop offset="0.17068" stop-color="#7c4923"/><stop offset="0.17092" stop-color="#854f25"/><stop offset="0.17120" stop-color="#8f5527"/><stop offset="0.17144" stop-color="#955828"/><stop offset="0.17169" stop-color="#985a29"/><stop offset="0.17193" stop-color="#995b29"/><stop offset="0.17217" stop-color="#985a29"/><stop offset="0.17245" stop-color="#945828"/><stop offset="0.17270" stop-color="#8d5426"/><stop offset="0.17298" stop-color="#844e24"/><stop offset="0.17322" stop-color="#794722"/><stop offset="0.17346" stop-color="#6e4020"/><stop offset="0.17427" stop-color="#442617"/><stop offset="0.17460" stop-color="#341c13"/><stop offset="0.17492" stop-color="#261310"/><stop offset="0.17520" stop-color="#1b0d0d"/><stop offset="0.17549" stop-color="#13080b"/><stop offset="0.17581" stop-color="#0b0408"/><stop offset="0.17613" stop-color="#060206"/><stop offset="0.17646" stop-color="#030105"/><stop offset="0.17686" stop-color="#010004"/><stop offset="0.17739" stop-color="#000003"/><stop offset="0.19178" stop-color="#000003"/><stop offset="0.19234" stop-color="#020004"/><stop offset="0.19279" stop-color="#060206"/><stop offset="0.19303" stop-color="#090408"/><stop offset="0.19323" stop-color="#0d0509"/><stop offset="0.19364" stop-color="#180b0d"/><stop offset="0.19400" stop-color="#251311"/><stop offset="0.19441" stop-color="#361f16"/><stop offset="0.19481" stop-color="#4b2e1c"/><stop offset="0.19566" stop-color="#794f28"/><stop offset="0.19590" stop-color="#85572b"/><stop offset="0.19614" stop-color="#905f2e"/><stop offset="0.19643" stop-color="#9a6631"/><stop offset="0.19667" stop-color="#a16a33"/><stop offset="0.19695" stop-color="#a56d34"/><stop offset="0.19719" stop-color="#a66e34"/><stop offset="0.19744" stop-color="#a56d34"/><stop offset="0.19772" stop-color="#a06a33"/><stop offset="0.19796" stop-color="#9a6531"/><stop offset="0.19825" stop-color="#905e2e"/><stop offset="0.19849" stop-color="#85572b"/><stop offset="0.19873" stop-color="#794e28"/><stop offset="0.19958" stop-color="#4a2d1c"/><stop offset="0.19990" stop-color="#3a2217"/><stop offset="0.20023" stop-color="#2b1813"/><stop offset="0.20055" stop-color="#1e0f0f"/><stop offset="0.20083" stop-color="#150a0c"/><stop offset="0.20116" stop-color="#0d0509"/><stop offset="0.20148" stop-color="#070307"/><stop offset="0.20180" stop-color="#030105"/><stop offset="0.20225" stop-color="#010004"/><stop offset="0.20281" stop-color="#000003"/><stop offset="0.21636" stop-color="#000003"/><stop offset="0.21692" stop-color="#020004"/><stop offset="0.21741" stop-color="#060207"/><stop offset="0.21765" stop-color="#0a0308"/><stop offset="0.21785" stop-color="#0e050a"/><stop offset="0.21826" stop-color="#190b0d"/><stop offset="0.21862" stop-color="#261211"/><stop offset="0.21902" stop-color="#381d15"/><stop offset="0.21943" stop-color="#4c2a19"/><stop offset="0.22032" stop-color="#7e4923"/><stop offset="0.22056" stop-color="#8a5125"/><stop offset="0.22080" stop-color="#945727"/><stop offset="0.22109" stop-color="#9f5e29"/><stop offset="0.22133" stop-color="#a5622a"/><stop offset="0.22157" stop-color="#a9642b"/><stop offset="0.22181" stop-color="#aa652b"/><stop offset="0.22206" stop-color="#a9642b"/><stop offset="0.22234" stop-color="#a4622a"/><stop offset="0.22258" stop-color="#9e5d29"/><stop offset="0.22286" stop-color="#945727"/><stop offset="0.22311" stop-color="#895025"/><stop offset="0.22335" stop-color="#7d4823"/><stop offset="0.22420" stop-color="#4e2b1a"/><stop offset="0.22456" stop-color="#3b1f16"/><stop offset="0.22497" stop-color="#281412"/><stop offset="0.22533" stop-color="#1b0c0e"/><stop offset="0.22569" stop-color="#10060b"/><stop offset="0.22606" stop-color="#090308"/><stop offset="0.22642" stop-color="#040106"/><stop offset="0.22687" stop-color="#010004"/><stop offset="0.22776" stop-color="#000003"/><stop offset="0.26535" stop-color="#000003"/><stop offset="0.26596" stop-color="#020005"/><stop offset="0.26644" stop-color="#060207"/><stop offset="0.26689" stop-color="#0d040b"/><stop offset="0.26713" stop-color="#12060d"/><stop offset="0.26733" stop-color="#18090f"/><stop offset="0.26774" stop-color="#270f13"/><stop offset="0.26818" stop-color="#3b1917"/><stop offset="0.26859" stop-color="#50241a"/><stop offset="0.26952" stop-color="#844021"/><stop offset="0.26976" stop-color="#904622"/><stop offset="0.27000" stop-color="#9b4c24"/><stop offset="0.27028" stop-color="#a55125"/><stop offset="0.27053" stop-color="#ac5526"/><stop offset="0.27077" stop-color="#b05726"/><stop offset="0.27101" stop-color="#b15826"/><stop offset="0.27125" stop-color="#b05726"/><stop offset="0.27154" stop-color="#ab5526"/><stop offset="0.27178" stop-color="#a55125"/><stop offset="0.27206" stop-color="#9b4c24"/><stop offset="0.27230" stop-color="#904622"/><stop offset="0.27255" stop-color="#844021"/><stop offset="0.27344" stop-color="#52251b"/><stop offset="0.27380" stop-color="#3e1b18"/><stop offset="0.27416" stop-color="#2d1314"/><stop offset="0.27449" stop-color="#200c11"/><stop offset="0.27481" stop-color="#16080e"/><stop offset="0.27513" stop-color="#0e040b"/><stop offset="0.27546" stop-color="#080209"/><stop offset="0.27578" stop-color="#040106"/><stop offset="0.27627" stop-color="#010004"/><stop offset="0.27687" stop-color="#000003"/><stop offset="0.29033" stop-color="#000003"/><stop offset="0.29098" stop-color="#020005"/><stop offset="0.29147" stop-color="#060208"/><stop offset="0.29171" stop-color="#0a030a"/><stop offset="0.29195" stop-color="#0f050c"/><stop offset="0.29219" stop-color="#15080e"/><stop offset="0.29240" stop-color="#1c0b10"/><stop offset="0.29260" stop-color="#230e12"/><stop offset="0.29284" stop-color="#2d1315"/><stop offset="0.29329" stop-color="#421f1a"/><stop offset="0.29377" stop-color="#5c2f1e"/><stop offset="0.29470" stop-color="#935225"/><stop offset="0.29494" stop-color="#a05a26"/><stop offset="0.29519" stop-color="#ab6228"/><stop offset="0.29547" stop-color="#b66929"/><stop offset="0.29575" stop-color="#be6e2a"/><stop offset="0.29603" stop-color="#c3712a"/><stop offset="0.29628" stop-color="#c4722b"/><stop offset="0.29652" stop-color="#c3712b"/><stop offset="0.29680" stop-color="#be6e2a"/><stop offset="0.29709" stop-color="#b66829"/><stop offset="0.29737" stop-color="#aa6128"/><stop offset="0.29761" stop-color="#9f5a27"/><stop offset="0.29785" stop-color="#925125"/><stop offset="0.29870" stop-color="#60311f"/><stop offset="0.29911" stop-color="#49231b"/><stop offset="0.29951" stop-color="#351817"/><stop offset="0.29992" stop-color="#230e13"/><stop offset="0.30024" stop-color="#18090f"/><stop offset="0.30056" stop-color="#0f050c"/><stop offset="0.30089" stop-color="#090309"/><stop offset="0.30125" stop-color="#040107"/><stop offset="0.30173" stop-color="#010004"/><stop offset="0.30238" stop-color="#000003"/><stop offset="0.31621" stop-color="#000003"/><stop offset="0.31685" stop-color="#020005"/><stop offset="0.31714" stop-color="#040106"/><stop offset="0.31738" stop-color="#060208"/><stop offset="0.31762" stop-color="#0a030a"/><stop offset="0.31786" stop-color="#0f050d"/><stop offset="0.31811" stop-color="#15070f"/><stop offset="0.31831" stop-color="#1b0a11"/><stop offset="0.31851" stop-color="#220d13"/><stop offset="0.31875" stop-color="#2c1116"/><stop offset="0.31900" stop-color="#371719"/><stop offset="0.31924" stop-color="#431d1b"/><stop offset="0.31972" stop-color="#5e2c1f"/><stop offset="0.32069" stop-color="#974e24"/><stop offset="0.32098" stop-color="#a65725"/><stop offset="0.32122" stop-color="#b15e26"/><stop offset="0.32150" stop-color="#bc6526"/><stop offset="0.32179" stop-color="#c46a27"/><stop offset="0.32207" stop-color="#c96d27"/><stop offset="0.32231" stop-color="#ca6d27"/><stop offset="0.32255" stop-color="#c86c27"/><stop offset="0.32284" stop-color="#c36927"/><stop offset="0.32312" stop-color="#bb6426"/><stop offset="0.32340" stop-color="#af5d26"/><stop offset="0.32364" stop-color="#a45625"/><stop offset="0.32393" stop-color="#954d24"/><stop offset="0.32457" stop-color="#6f3621"/><stop offset="0.32518" stop-color="#4c221d"/><stop offset="0.32563" stop-color="#351619"/><stop offset="0.32603" stop-color="#240e14"/><stop offset="0.32635" stop-color="#190911"/><stop offset="0.32672" stop-color="#0f050d"/><stop offset="0.32704" stop-color="#09030a"/><stop offset="0.32740" stop-color="#040107"/><stop offset="0.32789" stop-color="#010004"/><stop offset="0.32854" stop-color="#000003"/><stop offset="0.34313" stop-color="#000003"/><stop offset="0.34382" stop-color="#020005"/><stop offset="0.34410" stop-color="#040107"/><stop offset="0.34434" stop-color="#070209"/><stop offset="0.34459" stop-color="#0a030b"/><stop offset="0.34483" stop-color="#0f040e"/><stop offset="0.34507" stop-color="#150710"/><stop offset="0.34531" stop-color="#1d0a13"/><stop offset="0.34551" stop-color="#240d16"/><stop offset="0.34576" stop-color="#2e1118"/><stop offset="0.34600" stop-color="#39161b"/><stop offset="0.34624" stop-color="#451c1e"/><stop offset="0.34657" stop-color="#562520"/><stop offset="0.34697" stop-color="#6e3223"/><stop offset="0.34774" stop-color="#9a4b25"/><stop offset="0.34802" stop-color="#a95425"/><stop offset="0.34826" stop-color="#b55b25"/><stop offset="0.34855" stop-color="#c06125"/><stop offset="0.34883" stop-color="#c86626"/><stop offset="0.34911" stop-color="#cd6926"/><stop offset="0.34940" stop-color="#cf6a26"/><stop offset="0.34968" stop-color="#cd6926"/><stop offset="0.34996" stop-color="#c76526"/><stop offset="0.35024" stop-color="#bf6026"/><stop offset="0.35053" stop-color="#b35a26"/><stop offset="0.35077" stop-color="#a85325"/><stop offset="0.35105" stop-color="#994a25"/><stop offset="0.35178" stop-color="#6e3223"/><stop offset="0.35214" stop-color="#592621"/><stop offset="0.35247" stop-color="#471d1e"/><stop offset="0.35291" stop-color="#32131a"/><stop offset="0.35332" stop-color="#210b15"/><stop offset="0.35372" stop-color="#140610"/><stop offset="0.35392" stop-color="#0f050e"/><stop offset="0.35417" stop-color="#0b030b"/><stop offset="0.35461" stop-color="#040107"/><stop offset="0.35510" stop-color="#010005"/><stop offset="0.35603" stop-color="#000003"/><stop offset="0.37123" stop-color="#000003"/><stop offset="0.37199" stop-color="#010004"/><stop offset="0.37256" stop-color="#030107"/><stop offset="0.37296" stop-color="#08020b"/><stop offset="0.37333" stop-color="#0e040f"/><stop offset="0.37369" stop-color="#170614"/><stop offset="0.37401" stop-color="#210a19"/><stop offset="0.37438" stop-color="#2f0e1f"/><stop offset="0.37478" stop-color="#411525"/><stop offset="0.37511" stop-color="#521b29"/><stop offset="0.37547" stop-color="#65232e"/><stop offset="0.37616" stop-color="#8a3235"/><stop offset="0.37644" stop-color="#983837"/><stop offset="0.37668" stop-color="#a23c38"/><stop offset="0.37697" stop-color="#ad403a"/><stop offset="0.37725" stop-color="#b4433b"/><stop offset="0.37753" stop-color="#b9453c"/><stop offset="0.37781" stop-color="#ba463c"/><stop offset="0.37806" stop-color="#b9453c"/><stop offset="0.37834" stop-color="#b4433b"/><stop offset="0.37862" stop-color="#ad403a"/><stop offset="0.37891" stop-color="#a33c39"/><stop offset="0.37915" stop-color="#983837"/><stop offset="0.37943" stop-color="#8a3235"/><stop offset="0.38012" stop-color="#66232e"/><stop offset="0.38048" stop-color="#521b2a"/><stop offset="0.38081" stop-color="#421525"/><stop offset="0.38121" stop-color="#2f0f1f"/><stop offset="0.38157" stop-color="#220a19"/><stop offset="0.38190" stop-color="#170614"/><stop offset="0.38226" stop-color="#0e040f"/><stop offset="0.38263" stop-color="#08020b"/><stop offset="0.38303" stop-color="#040107"/><stop offset="0.38355" stop-color="#010004"/><stop offset="0.38432" stop-color="#000003"/><stop offset="0.40122" stop-color="#000003"/><stop offset="0.40195" stop-color="#020005"/><stop offset="0.40223" stop-color="#040107"/><stop offset="0.40251" stop-color="#06020a"/><stop offset="0.40280" stop-color="#0a030d"/><stop offset="0.40304" stop-color="#0f0410"/><stop offset="0.40328" stop-color="#150613"/><stop offset="0.40353" stop-color="#1c0817"/><stop offset="0.40389" stop-color="#290c1c"/><stop offset="0.40425" stop-color="#381222"/><stop offset="0.40466" stop-color="#4c1a27"/><stop offset="0.40514" stop-color="#67262c"/><stop offset="0.40559" stop-color="#80322f"/><stop offset="0.40607" stop-color="#9a3f30"/><stop offset="0.40635" stop-color="#a94631"/><stop offset="0.40664" stop-color="#b64c31"/><stop offset="0.40696" stop-color="#c25230"/><stop offset="0.40728" stop-color="#cb5730"/><stop offset="0.40757" stop-color="#cf5930"/><stop offset="0.40785" stop-color="#d15a30"/><stop offset="0.40813" stop-color="#cf5930"/><stop offset="0.40842" stop-color="#cb5630"/><stop offset="0.40874" stop-color="#c25231"/><stop offset="0.40906" stop-color="#b54c31"/><stop offset="0.40935" stop-color="#a94531"/><stop offset="0.40963" stop-color="#9a3e31"/><stop offset="0.41007" stop-color="#823230"/><stop offset="0.41048" stop-color="#6b282d"/><stop offset="0.41092" stop-color="#521d29"/><stop offset="0.41129" stop-color="#401524"/><stop offset="0.41161" stop-color="#310f20"/><stop offset="0.41193" stop-color="#240b1b"/><stop offset="0.41230" stop-color="#180715"/><stop offset="0.41266" stop-color="#0f0410"/><stop offset="0.41303" stop-color="#09020b"/><stop offset="0.41343" stop-color="#040108"/><stop offset="0.41400" stop-color="#010004"/><stop offset="0.41476" stop-color="#000003"/><stop offset="0.43275" stop-color="#000003"/><stop offset="0.43352" stop-color="#020006"/><stop offset="0.43380" stop-color="#040108"/><stop offset="0.43409" stop-color="#07020a"/><stop offset="0.43437" stop-color="#0b030d"/><stop offset="0.43461" stop-color="#100411"/><stop offset="0.43485" stop-color="#160614"/><stop offset="0.43510" stop-color="#1e0918"/><stop offset="0.43550" stop-color="#2c0e1e"/><stop offset="0.43591" stop-color="#3f1523"/><stop offset="0.43639" stop-color="#582129"/><stop offset="0.43688" stop-color="#732f2c"/><stop offset="0.43732" stop-color="#8d3d2d"/><stop offset="0.43781" stop-color="#a84e2b"/><stop offset="0.43813" stop-color="#b85829"/><stop offset="0.43845" stop-color="#c76227"/><stop offset="0.43882" stop-color="#d56b23"/><stop offset="0.43918" stop-color="#df7221"/><stop offset="0.43938" stop-color="#e27520"/><stop offset="0.43954" stop-color="#e5771f"/><stop offset="0.43987" stop-color="#e6781e"/><stop offset="0.44019" stop-color="#e4771f"/><stop offset="0.44035" stop-color="#e27520"/><stop offset="0.44055" stop-color="#de7221"/><stop offset="0.44092" stop-color="#d46b24"/><stop offset="0.44128" stop-color="#c66127"/><stop offset="0.44161" stop-color="#b8582a"/><stop offset="0.44193" stop-color="#a74d2c"/><stop offset="0.44241" stop-color="#8c3c2e"/><stop offset="0.44290" stop-color="#702d2d"/><stop offset="0.44338" stop-color="#551f29"/><stop offset="0.44387" stop-color="#3c1423"/><stop offset="0.44427" stop-color="#2b0d1d"/><stop offset="0.44468" stop-color="#1c0817"/><stop offset="0.44492" stop-color="#150614"/><stop offset="0.44520" stop-color="#0e0410"/><stop offset="0.44545" stop-color="#0a020d"/><stop offset="0.44573" stop-color="#060109"/><stop offset="0.44630" stop-color="#020005"/><stop offset="0.44706" stop-color="#000003"/><stop offset="0.50358" stop-color="#000003"/><stop offset="0.50435" stop-color="#000003"/><stop offset="0.50487" stop-color="#010005"/><stop offset="0.50544" stop-color="#040109"/><stop offset="0.50592" stop-color="#09020e"/><stop offset="0.50637" stop-color="#100415"/><stop offset="0.50681" stop-color="#1b061e"/><stop offset="0.50722" stop-color="#270a27"/><stop offset="0.50762" stop-color="#350e30"/><stop offset="0.50806" stop-color="#481339"/><stop offset="0.50867" stop-color="#631b44"/><stop offset="0.50908" stop-color="#75204a"/><stop offset="0.50944" stop-color="#85254e"/><stop offset="0.50972" stop-color="#902950"/><stop offset="0.51001" stop-color="#9a2c52"/><stop offset="0.51037" stop-color="#a53053"/><stop offset="0.51073" stop-color="#ad3354"/><stop offset="0.51106" stop-color="#b13454"/><stop offset="0.51138" stop-color="#b23554"/><stop offset="0.51170" stop-color="#b03454"/><stop offset="0.51203" stop-color="#ac3254"/><stop offset="0.51239" stop-color="#a43053"/><stop offset="0.51275" stop-color="#992c52"/><stop offset="0.51304" stop-color="#8f2950"/><stop offset="0.51332" stop-color="#83254e"/><stop offset="0.51368" stop-color="#74204a"/><stop offset="0.51405" stop-color="#631b45"/><stop offset="0.51461" stop-color="#4a133a"/><stop offset="0.51506" stop-color="#380e31"/><stop offset="0.51546" stop-color="#290a28"/><stop offset="0.51583" stop-color="#1d0720"/><stop offset="0.51623" stop-color="#130518"/><stop offset="0.51664" stop-color="#0b0311"/><stop offset="0.51708" stop-color="#06010b"/><stop offset="0.51752" stop-color="#020107"/><stop offset="0.51813" stop-color="#000004"/><stop offset="0.51898" stop-color="#000003"/><stop offset="0.54360" stop-color="#000003"/><stop offset="0.54469" stop-color="#010004"/><stop offset="0.54530" stop-color="#030108"/><stop offset="0.54586" stop-color="#08020e"/><stop offset="0.54635" stop-color="#0f0415"/><stop offset="0.54683" stop-color="#1a061f"/><stop offset="0.54728" stop-color="#270a29"/><stop offset="0.54772" stop-color="#370e32"/><stop offset="0.54833" stop-color="#51153f"/><stop offset="0.54881" stop-color="#671c47"/><stop offset="0.54918" stop-color="#77214c"/><stop offset="0.54954" stop-color="#87264f"/><stop offset="0.54991" stop-color="#962c51"/><stop offset="0.55027" stop-color="#a33052"/><stop offset="0.55067" stop-color="#ae3551"/><stop offset="0.55108" stop-color="#b73850"/><stop offset="0.55148" stop-color="#bc3a4f"/><stop offset="0.55185" stop-color="#bd3a4f"/><stop offset="0.55217" stop-color="#bc3a4f"/><stop offset="0.55245" stop-color="#ba3950"/><stop offset="0.55278" stop-color="#b43751"/><stop offset="0.55310" stop-color="#ad3452"/><stop offset="0.55342" stop-color="#a33052"/><stop offset="0.55375" stop-color="#982c52"/><stop offset="0.55415" stop-color="#882750"/><stop offset="0.55455" stop-color="#76214c"/><stop offset="0.55516" stop-color="#5b1844"/><stop offset="0.55581" stop-color="#3f1037"/><stop offset="0.55625" stop-color="#2e0b2d"/><stop offset="0.55670" stop-color="#1f0823"/><stop offset="0.55714" stop-color="#14051a"/><stop offset="0.55759" stop-color="#0c0312"/><stop offset="0.55803" stop-color="#06010c"/><stop offset="0.55852" stop-color="#020107"/><stop offset="0.55916" stop-color="#000004"/><stop offset="0.56001" stop-color="#000003"/><stop offset="0.58742" stop-color="#000003"/><stop offset="0.58855" stop-color="#000004"/><stop offset="0.58920" stop-color="#020107"/><stop offset="0.58980" stop-color="#07020d"/><stop offset="0.59033" stop-color="#0f0316"/><stop offset="0.59082" stop-color="#19061f"/><stop offset="0.59126" stop-color="#250929"/><stop offset="0.59175" stop-color="#360d34"/><stop offset="0.59239" stop-color="#501442"/><stop offset="0.59292" stop-color="#671b4b"/><stop offset="0.59332" stop-color="#792150"/><stop offset="0.59369" stop-color="#882653"/><stop offset="0.59413" stop-color="#992c54"/><stop offset="0.59453" stop-color="#a73153"/><stop offset="0.59502" stop-color="#b43652"/><stop offset="0.59546" stop-color="#bc3a4f"/><stop offset="0.59591" stop-color="#c13c4e"/><stop offset="0.59635" stop-color="#c23d4d"/><stop offset="0.59672" stop-color="#c13c4d"/><stop offset="0.59708" stop-color="#be3b4f"/><stop offset="0.59740" stop-color="#b93950"/><stop offset="0.59777" stop-color="#b13552"/><stop offset="0.59813" stop-color="#a73154"/><stop offset="0.59850" stop-color="#9b2d54"/><stop offset="0.59894" stop-color="#8b2753"/><stop offset="0.59939" stop-color="#782150"/><stop offset="0.59971" stop-color="#6a1c4d"/><stop offset="0.60003" stop-color="#5c1848"/><stop offset="0.60076" stop-color="#3d0f39"/><stop offset="0.60120" stop-color="#2d0b2f"/><stop offset="0.60165" stop-color="#1f0725"/><stop offset="0.60209" stop-color="#14051b"/><stop offset="0.60254" stop-color="#0c0313"/><stop offset="0.60302" stop-color="#06010c"/><stop offset="0.60355" stop-color="#020107"/><stop offset="0.60420" stop-color="#000004"/><stop offset="0.60513" stop-color="#000003"/><stop offset="0.63597" stop-color="#000003"/><stop offset="0.63714" stop-color="#000004"/><stop offset="0.63783" stop-color="#020107"/><stop offset="0.63848" stop-color="#06020d"/><stop offset="0.63904" stop-color="#0e0316"/><stop offset="0.63957" stop-color="#190621"/><stop offset="0.64009" stop-color="#27092d"/><stop offset="0.64062" stop-color="#390e3a"/><stop offset="0.64106" stop-color="#4a1243"/><stop offset="0.64147" stop-color="#5b174b"/><stop offset="0.64183" stop-color="#6a1c50"/><stop offset="0.64220" stop-color="#7a2154"/><stop offset="0.64264" stop-color="#8b2657"/><stop offset="0.64313" stop-color="#9d2d57"/><stop offset="0.64353" stop-color="#a93255"/><stop offset="0.64393" stop-color="#b33653"/><stop offset="0.64434" stop-color="#bb3a50"/><stop offset="0.64478" stop-color="#c23c4d"/><stop offset="0.64519" stop-color="#c53e4b"/><stop offset="0.64563" stop-color="#c63f4b"/><stop offset="0.64608" stop-color="#c53e4b"/><stop offset="0.64652" stop-color="#c13c4d"/><stop offset="0.64697" stop-color="#bb3950"/><stop offset="0.64737" stop-color="#b33653"/><stop offset="0.64777" stop-color="#a93255"/><stop offset="0.64818" stop-color="#9d2d57"/><stop offset="0.64866" stop-color="#8c2757"/><stop offset="0.64915" stop-color="#792054"/><stop offset="0.64963" stop-color="#641a4f"/><stop offset="0.65012" stop-color="#501447"/><stop offset="0.65052" stop-color="#40103e"/><stop offset="0.65089" stop-color="#330c36"/><stop offset="0.65121" stop-color="#28092e"/><stop offset="0.65153" stop-color="#1f0727"/><stop offset="0.65198" stop-color="#14051d"/><stop offset="0.65246" stop-color="#0b0314"/><stop offset="0.65295" stop-color="#06010c"/><stop offset="0.65351" stop-color="#020107"/><stop offset="0.65420" stop-color="#000004"/><stop offset="0.65513" stop-color="#000003"/><stop offset="0.69026" stop-color="#000003"/><stop offset="0.69151" stop-color="#000004"/><stop offset="0.69224" stop-color="#020107"/><stop offset="0.69261" stop-color="#04010a"/><stop offset="0.69293" stop-color="#06020e"/><stop offset="0.69350" stop-color="#0d0317"/><stop offset="0.69406" stop-color="#180522"/><stop offset="0.69459" stop-color="#26092f"/><stop offset="0.69515" stop-color="#380d3c"/><stop offset="0.69564" stop-color="#491247"/><stop offset="0.69608" stop-color="#5b164f"/><stop offset="0.69649" stop-color="#6b1b55"/><stop offset="0.69685" stop-color="#791f59"/><stop offset="0.69738" stop-color="#8c265b"/><stop offset="0.69790" stop-color="#9d2c5a"/><stop offset="0.69839" stop-color="#ab3157"/><stop offset="0.69883" stop-color="#b53654"/><stop offset="0.69932" stop-color="#bd3a50"/><stop offset="0.69980" stop-color="#c33d4d"/><stop offset="0.70029" stop-color="#c73f4b"/><stop offset="0.70081" stop-color="#c83f4a"/><stop offset="0.70134" stop-color="#c73f4b"/><stop offset="0.70186" stop-color="#c33d4d"/><stop offset="0.70239" stop-color="#bc3950"/><stop offset="0.70287" stop-color="#b43554"/><stop offset="0.70336" stop-color="#a93158"/><stop offset="0.70384" stop-color="#9b2b5b"/><stop offset="0.70437" stop-color="#8a255b"/><stop offset="0.70490" stop-color="#761f59"/><stop offset="0.70538" stop-color="#641953"/><stop offset="0.70591" stop-color="#4f134b"/><stop offset="0.70635" stop-color="#3e0f41"/><stop offset="0.70671" stop-color="#320c39"/><stop offset="0.70708" stop-color="#270930"/><stop offset="0.70740" stop-color="#1e0728"/><stop offset="0.70789" stop-color="#13041d"/><stop offset="0.70837" stop-color="#0b0314"/><stop offset="0.70890" stop-color="#05010c"/><stop offset="0.70946" stop-color="#020107"/><stop offset="0.71015" stop-color="#000004"/><stop offset="0.71120" stop-color="#000003"/><stop offset="0.75155" stop-color="#000003"/><stop offset="0.75296" stop-color="#000004"/><stop offset="0.75365" stop-color="#010006"/><stop offset="0.75430" stop-color="#05010c"/><stop offset="0.75462" stop-color="#080210"/><stop offset="0.75494" stop-color="#0c0316"/><stop offset="0.75527" stop-color="#11041c"/><stop offset="0.75559" stop-color="#170523"/><stop offset="0.75599" stop-color="#20072d"/><stop offset="0.75644" stop-color="#2d0a38"/><stop offset="0.75688" stop-color="#3b0e42"/><stop offset="0.75741" stop-color="#4d124e"/><stop offset="0.75797" stop-color="#621857"/><stop offset="0.75854" stop-color="#771e5d"/><stop offset="0.75911" stop-color="#8a245f"/><stop offset="0.75971" stop-color="#9c2b5d"/><stop offset="0.76024" stop-color="#a9305a"/><stop offset="0.76080" stop-color="#b43555"/><stop offset="0.76137" stop-color="#bd3951"/><stop offset="0.76198" stop-color="#c33d4d"/><stop offset="0.76258" stop-color="#c73f4b"/><stop offset="0.76319" stop-color="#c9404a"/><stop offset="0.76380" stop-color="#c83f4b"/><stop offset="0.76440" stop-color="#c43d4d"/><stop offset="0.76501" stop-color="#bd3951"/><stop offset="0.76561" stop-color="#b43555"/><stop offset="0.76618" stop-color="#a9305a"/><stop offset="0.76675" stop-color="#9b2a5d"/><stop offset="0.76739" stop-color="#88235f"/><stop offset="0.76796" stop-color="#751d5d"/><stop offset="0.76848" stop-color="#621858"/><stop offset="0.76905" stop-color="#4e124f"/><stop offset="0.76945" stop-color="#400f46"/><stop offset="0.76990" stop-color="#310b3c"/><stop offset="0.77026" stop-color="#260933"/><stop offset="0.77063" stop-color="#1d072a"/><stop offset="0.77115" stop-color="#12041e"/><stop offset="0.77168" stop-color="#0a0214"/><stop offset="0.77224" stop-color="#04010c"/><stop offset="0.77281" stop-color="#010107"/><stop offset="0.77354" stop-color="#000004"/><stop offset="0.77467" stop-color="#000003"/><stop offset="0.82152" stop-color="#000003"/><stop offset="0.82306" stop-color="#000004"/><stop offset="0.82383" stop-color="#010006"/><stop offset="0.82447" stop-color="#04010c"/><stop offset="0.82480" stop-color="#070210"/><stop offset="0.82516" stop-color="#0b0316"/><stop offset="0.82548" stop-color="#10041d"/><stop offset="0.82581" stop-color="#160524"/><stop offset="0.82625" stop-color="#1f072e"/><stop offset="0.82670" stop-color="#2b0a3a"/><stop offset="0.82718" stop-color="#390d45"/><stop offset="0.82771" stop-color="#4a1150"/><stop offset="0.82831" stop-color="#5f165a"/><stop offset="0.82864" stop-color="#6a195e"/><stop offset="0.82892" stop-color="#731c60"/><stop offset="0.82953" stop-color="#862262"/><stop offset="0.83025" stop-color="#992960"/><stop offset="0.83094" stop-color="#a82f5b"/><stop offset="0.83163" stop-color="#b43556"/><stop offset="0.83232" stop-color="#be3951"/><stop offset="0.83304" stop-color="#c53d4c"/><stop offset="0.83377" stop-color="#c9404a"/><stop offset="0.83454" stop-color="#cb4149"/><stop offset="0.83531" stop-color="#c9404a"/><stop offset="0.83604" stop-color="#c53e4c"/><stop offset="0.83676" stop-color="#be3a50"/><stop offset="0.83749" stop-color="#b53556"/><stop offset="0.83822" stop-color="#a82f5b"/><stop offset="0.83891" stop-color="#992960"/><stop offset="0.83963" stop-color="#862263"/><stop offset="0.83996" stop-color="#7d1f62"/><stop offset="0.84028" stop-color="#721c61"/><stop offset="0.84056" stop-color="#69195f"/><stop offset="0.84089" stop-color="#5f165b"/><stop offset="0.84149" stop-color="#4a1151"/><stop offset="0.84194" stop-color="#3c0e48"/><stop offset="0.84246" stop-color="#2c0a3b"/><stop offset="0.84291" stop-color="#210730"/><stop offset="0.84331" stop-color="#180527"/><stop offset="0.84364" stop-color="#12041f"/><stop offset="0.84396" stop-color="#0d0319"/><stop offset="0.84461" stop-color="#05020e"/><stop offset="0.84521" stop-color="#020108"/><stop offset="0.84586" stop-color="#000004"/><stop offset="0.84655" stop-color="#000003"/><stop offset="0.84784" stop-color="#000003"/><stop offset="0.99640" stop-color="#000003"/><stop offset="1.00000" stop-color="#000002"/></radialGradient></defs><rect width="342" height="351" fill="url(#g1)"/><svg x="67" y="0" width="1" height="351" viewBox="67 0 1 351"><rect x="-2" y="-2" width="346" height="355" fill="#000003"/><rect x="-2" y="-2" width="346" height="355" fill="url(#g1)" transform="translate(0.228 0)" fill-opacity="0.621"/></svg><svg x="68" y="0" width="1" height="351" viewBox="68 0 1 351"><rect x="-2" y="-2" width="346" height="355" fill="#000003"/><rect x="-2" y="-2" width="346" height="355" fill="url(#g1)" transform="translate(-0.355 0)" fill-opacity="0.406"/></svg><svg x="135" y="0" width="1" height="351" viewBox="135 0 1 351"><rect x="-2" y="-2" width="346" height="355" fill="#000003"/><rect x="-2" y="-2" width="346" height="355" fill="url(#g1)" transform="translate(0.014 0)" fill-opacity="0.982"/></svg><svg x="136" y="0" width="1" height="351" viewBox="136 0 1 351"><rect x="-2" y="-2" width="346" height="355" fill="#000003"/><rect x="-2" y="-2" width="346" height="355" fill="url(#g1)" transform="translate(0.479 0)" fill-opacity="0.240"/><rect x="-2" y="-2" width="346" height="355" fill="url(#g1)" transform="translate(-0.768 0)" fill-opacity="0.024"/></svg><svg x="137" y="0" width="1" height="351" viewBox="137 0 1 351"><rect x="-2" y="-2" width="346" height="355" fill="#000003"/><rect x="-2" y="-2" width="346" height="355" fill="url(#g1)" transform="translate(-0.134 0)" fill-opacity="0.788"/></svg><svg x="204" y="0" width="1" height="351" viewBox="204 0 1 351"><rect x="-2" y="-2" width="346" height="355" fill="#000003"/><rect x="-2" y="-2" width="346" height="355" fill="url(#g1)" transform="translate(0.134 0)" fill-opacity="0.788"/></svg><svg x="205" y="0" width="1" height="351" viewBox="205 0 1 351"><rect x="-2" y="-2" width="346" height="355" fill="#000003"/><rect x="-2" y="-2" width="346" height="355" fill="url(#g1)" transform="translate(0.768 0)" fill-opacity="0.031"/><rect x="-2" y="-2" width="346" height="355" fill="url(#g1)" transform="translate(-0.479 0)" fill-opacity="0.235"/></svg><svg x="206" y="0" width="1" height="351" viewBox="206 0 1 351"><rect x="-2" y="-2" width="346" height="355" fill="#000003"/><rect x="-2" y="-2" width="346" height="355" fill="url(#g1)" transform="translate(-0.014 0)" fill-opacity="0.982"/></svg><svg x="273" y="0" width="1" height="351" viewBox="273 0 1 351"><rect x="-2" y="-2" width="346" height="355" fill="#000003"/><rect x="-2" y="-2" width="346" height="355" fill="url(#g1)" transform="translate(0.355 0)" fill-opacity="0.406"/></svg><svg x="274" y="0" width="1" height="351" viewBox="274 0 1 351"><rect x="-2" y="-2" width="346" height="355" fill="#000003"/><rect x="-2" y="-2" width="346" height="355" fill="url(#g1)" transform="translate(-0.228 0)" fill-opacity="0.621"/></svg><svg x="0" y="320" width="342" height="1" viewBox="0 320 342 1"><rect x="-2" y="-2" width="346" height="355" fill="#000003"/><rect x="-2" y="-2" width="346" height="355" fill="url(#g1)" transform="translate(0 0.220)" fill-opacity="0.635"/></svg><svg x="0" y="321" width="342" height="1" viewBox="0 321 342 1"><rect x="-2" y="-2" width="346" height="355" fill="#000003"/></svg><svg x="0" y="322" width="342" height="1" viewBox="0 322 342 1"><rect x="-2" y="-2" width="346" height="355" fill="#000003"/><rect x="-2" y="-2" width="346" height="355" fill="url(#g1)" transform="translate(0 -0.624)" fill-opacity="0.095"/></svg><svg x="0" y="323" width="342" height="1" viewBox="0 323 342 1"><rect x="-2" y="-2" width="346" height="355" fill="#000003"/><rect x="-2" y="-2" width="346" height="355" fill="url(#g1)" transform="translate(0 -0.060)" fill-opacity="0.913"/></svg><svg x="0" y="290" width="342" height="1" viewBox="0 290 342 1"><rect x="-2" y="-2" width="346" height="355" fill="#000003"/><rect x="-2" y="-2" width="346" height="355" fill="url(#g1)" transform="translate(0 0.008)" fill-opacity="0.991"/></svg><svg x="0" y="291" width="342" height="1" viewBox="0 291 342 1"><rect x="-2" y="-2" width="346" height="355" fill="#000003"/><rect x="-2" y="-2" width="346" height="355" fill="url(#g1)" transform="translate(0 0.440)" fill-opacity="0.283"/></svg><svg x="0" y="292" width="342" height="1" viewBox="0 292 342 1"><rect x="-2" y="-2" width="346" height="355" fill="#000003"/></svg><svg x="0" y="293" width="342" height="1" viewBox="0 293 342 1"><rect x="-2" y="-2" width="346" height="355" fill="#000003"/><rect x="-2" y="-2" width="346" height="355" fill="url(#g1)" transform="translate(0 -0.377)" fill-opacity="0.373"/></svg><svg x="0" y="261" width="342" height="1" viewBox="0 261 342 1"><rect x="-2" y="-2" width="346" height="355" fill="#000003"/><rect x="-2" y="-2" width="346" height="355" fill="url(#g1)" transform="translate(0 0.093)" fill-opacity="0.859"/></svg><svg x="0" y="262" width="342" height="1" viewBox="0 262 342 1"><rect x="-2" y="-2" width="346" height="355" fill="#000003"/><rect x="-2" y="-2" width="346" height="355" fill="url(#g1)" transform="translate(0 0.694)" fill-opacity="0.053"/></svg><svg x="0" y="263" width="342" height="1" viewBox="0 263 342 1"><rect x="-2" y="-2" width="346" height="355" fill="#000003"/><rect x="-2" y="-2" width="346" height="355" fill="url(#g1)" transform="translate(0 -0.825)" fill-opacity="0.010"/></svg><svg x="0" y="264" width="342" height="1" viewBox="0 264 342 1"><rect x="-2" y="-2" width="346" height="355" fill="#000003"/><rect x="-2" y="-2" width="346" height="355" fill="url(#g1)" transform="translate(0 -0.170)" fill-opacity="0.724"/></svg><svg x="0" y="232" width="342" height="1" viewBox="0 232 342 1"><rect x="-2" y="-2" width="346" height="355" fill="#000003"/><rect x="-2" y="-2" width="346" height="355" fill="url(#g1)" transform="translate(0 0.269)" fill-opacity="0.548"/></svg><svg x="0" y="233" width="342" height="1" viewBox="0 233 342 1"><rect x="-2" y="-2" width="346" height="355" fill="#000003"/></svg><svg x="0" y="234" width="342" height="1" viewBox="0 234 342 1"><rect x="-2" y="-2" width="346" height="355" fill="#000003"/><rect x="-2" y="-2" width="346" height="355" fill="url(#g1)" transform="translate(0 -0.561)" fill-opacity="0.147"/></svg><svg x="0" y="235" width="342" height="1" viewBox="0 235 342 1"><rect x="-2" y="-2" width="346" height="355" fill="#000003"/><rect x="-2" y="-2" width="346" height="355" fill="url(#g1)" transform="translate(0 -0.037)" fill-opacity="0.950"/></svg><svg x="0" y="202" width="342" height="1" viewBox="0 202 342 1"><rect x="-2" y="-2" width="346" height="355" fill="#000003"/><rect x="-2" y="-2" width="346" height="355" fill="url(#g1)" transform="translate(0 0.019)" fill-opacity="0.976"/></svg><svg x="0" y="203" width="342" height="1" viewBox="0 203 342 1"><rect x="-2" y="-2" width="346" height="355" fill="#000003"/><rect x="-2" y="-2" width="346" height="355" fill="url(#g1)" transform="translate(0 0.500)" fill-opacity="0.210"/></svg><svg x="0" y="204" width="342" height="1" viewBox="0 204 342 1"><rect x="-2" y="-2" width="346" height="355" fill="#000003"/></svg><svg x="0" y="205" width="342" height="1" viewBox="0 205 342 1"><rect x="-2" y="-2" width="346" height="355" fill="#000003"/><rect x="-2" y="-2" width="346" height="355" fill="url(#g1)" transform="translate(0 -0.322)" fill-opacity="0.460"/></svg><svg x="0" y="173" width="342" height="1" viewBox="0 173 342 1"><rect x="-2" y="-2" width="346" height="355" fill="#000003"/><rect x="-2" y="-2" width="346" height="355" fill="url(#g1)" transform="translate(0 0.129)" fill-opacity="0.796"/></svg><svg x="0" y="174" width="342" height="1" viewBox="0 174 342 1"><rect x="-2" y="-2" width="346" height="355" fill="#000003"/><rect x="-2" y="-2" width="346" height="355" fill="url(#g1)" transform="translate(0 0.759)" fill-opacity="0.026"/></svg><svg x="0" y="175" width="342" height="1" viewBox="0 175 342 1"><rect x="-2" y="-2" width="346" height="355" fill="#000003"/><rect x="-2" y="-2" width="346" height="355" fill="url(#g1)" transform="translate(0 -0.759)" fill-opacity="0.026"/></svg><svg x="0" y="176" width="342" height="1" viewBox="0 176 342 1"><rect x="-2" y="-2" width="346" height="355" fill="#000003"/><rect x="-2" y="-2" width="346" height="355" fill="url(#g1)" transform="translate(0 -0.129)" fill-opacity="0.796"/></svg><svg x="0" y="144" width="342" height="1" viewBox="0 144 342 1"><rect x="-2" y="-2" width="346" height="355" fill="#000003"/><rect x="-2" y="-2" width="346" height="355" fill="url(#g1)" transform="translate(0 0.322)" fill-opacity="0.460"/></svg><svg x="0" y="145" width="342" height="1" viewBox="0 145 342 1"><rect x="-2" y="-2" width="346" height="355" fill="#000003"/></svg><svg x="0" y="146" width="342" height="1" viewBox="0 146 342 1"><rect x="-2" y="-2" width="346" height="355" fill="#000003"/><rect x="-2" y="-2" width="346" height="355" fill="url(#g1)" transform="translate(0 -0.500)" fill-opacity="0.210"/></svg><svg x="0" y="147" width="342" height="1" viewBox="0 147 342 1"><rect x="-2" y="-2" width="346" height="355" fill="#000003"/><rect x="-2" y="-2" width="346" height="355" fill="url(#g1)" transform="translate(0 -0.019)" fill-opacity="0.976"/></svg><svg x="0" y="114" width="342" height="1" viewBox="0 114 342 1"><rect x="-2" y="-2" width="346" height="355" fill="#000003"/><rect x="-2" y="-2" width="346" height="355" fill="url(#g1)" transform="translate(0 0.037)" fill-opacity="0.950"/></svg><svg x="0" y="115" width="342" height="1" viewBox="0 115 342 1"><rect x="-2" y="-2" width="346" height="355" fill="#000003"/><rect x="-2" y="-2" width="346" height="355" fill="url(#g1)" transform="translate(0 0.561)" fill-opacity="0.147"/></svg><svg x="0" y="116" width="342" height="1" viewBox="0 116 342 1"><rect x="-2" y="-2" width="346" height="355" fill="#000003"/></svg><svg x="0" y="117" width="342" height="1" viewBox="0 117 342 1"><rect x="-2" y="-2" width="346" height="355" fill="#000003"/><rect x="-2" y="-2" width="346" height="355" fill="url(#g1)" transform="translate(0 -0.269)" fill-opacity="0.548"/></svg><svg x="0" y="85" width="342" height="1" viewBox="0 85 342 1"><rect x="-2" y="-2" width="346" height="355" fill="#000003"/><rect x="-2" y="-2" width="346" height="355" fill="url(#g1)" transform="translate(0 0.170)" fill-opacity="0.724"/></svg><svg x="0" y="86" width="342" height="1" viewBox="0 86 342 1"><rect x="-2" y="-2" width="346" height="355" fill="#000003"/><rect x="-2" y="-2" width="346" height="355" fill="url(#g1)" transform="translate(0 0.825)" fill-opacity="0.010"/></svg><svg x="0" y="87" width="342" height="1" viewBox="0 87 342 1"><rect x="-2" y="-2" width="346" height="355" fill="#000003"/><rect x="-2" y="-2" width="346" height="355" fill="url(#g1)" transform="translate(0 -0.694)" fill-opacity="0.053"/></svg><svg x="0" y="88" width="342" height="1" viewBox="0 88 342 1"><rect x="-2" y="-2" width="346" height="355" fill="#000003"/><rect x="-2" y="-2" width="346" height="355" fill="url(#g1)" transform="translate(0 -0.093)" fill-opacity="0.859"/></svg><svg x="0" y="56" width="342" height="1" viewBox="0 56 342 1"><rect x="-2" y="-2" width="346" height="355" fill="#000003"/><rect x="-2" y="-2" width="346" height="355" fill="url(#g1)" transform="translate(0 0.377)" fill-opacity="0.373"/></svg><svg x="0" y="57" width="342" height="1" viewBox="0 57 342 1"><rect x="-2" y="-2" width="346" height="355" fill="#000003"/></svg><svg x="0" y="58" width="342" height="1" viewBox="0 58 342 1"><rect x="-2" y="-2" width="346" height="355" fill="#000003"/><rect x="-2" y="-2" width="346" height="355" fill="url(#g1)" transform="translate(0 -0.440)" fill-opacity="0.283"/></svg><svg x="0" y="59" width="342" height="1" viewBox="0 59 342 1"><rect x="-2" y="-2" width="346" height="355" fill="#000003"/><rect x="-2" y="-2" width="346" height="355" fill="url(#g1)" transform="translate(0 -0.008)" fill-opacity="0.991"/></svg><svg x="0" y="26" width="342" height="1" viewBox="0 26 342 1"><rect x="-2" y="-2" width="346" height="355" fill="#000003"/><rect x="-2" y="-2" width="346" height="355" fill="url(#g1)" transform="translate(0 0.060)" fill-opacity="0.913"/></svg><svg x="0" y="27" width="342" height="1" viewBox="0 27 342 1"><rect x="-2" y="-2" width="346" height="355" fill="#000003"/><rect x="-2" y="-2" width="346" height="355" fill="url(#g1)" transform="translate(0 0.624)" fill-opacity="0.095"/></svg><svg x="0" y="28" width="342" height="1" viewBox="0 28 342 1"><rect x="-2" y="-2" width="346" height="355" fill="#000003"/></svg><svg x="0" y="29" width="342" height="1" viewBox="0 29 342 1"><rect x="-2" y="-2" width="346" height="355" fill="#000003"/><rect x="-2" y="-2" width="346" height="355" fill="url(#g1)" transform="translate(0 -0.220)" fill-opacity="0.635"/></svg></svg><div class="bd"></div></div>
<div class="t ti" style="left:476.65px;top:11.00px">LaB6</div>
<div class="xk" style="left:478px;top:383px"></div>
<div class="t xl" style="left:478.40px;top:392.07px">0</div>
<div class="xk" style="left:547px;top:383px"></div>
<div class="t xl" style="left:546.15px;top:392.07px">500</div>
<div class="xk" style="left:616px;top:383px"></div>
<div class="t xl" style="left:615.52px;top:392.07px">1000</div>
<div class="xk" style="left:685px;top:383px"></div>
<div class="t xl" style="left:684.52px;top:392.07px">1500</div>
<div class="xk" style="left:755px;top:383px"></div>
<div class="t xl" style="left:754.52px;top:392.07px">2000</div>
<div class="yk" style="left:473px;top:382px"></div>
<div class="t yl" style="left:408.73px;top:377.07px">0</div>
<div class="yk" style="left:473px;top:313px"></div>
<div class="t yl" style="left:407.35px;top:308.07px">500</div>
<div class="yk" style="left:473px;top:244px"></div>
<div class="t yl" style="left:407.23px;top:238.07px">1000</div>
<div class="yk" style="left:473px;top:174px"></div>
<div class="t yl" style="left:407.23px;top:169.07px">1500</div>
<div class="yk" style="left:473px;top:105px"></div>
<div class="t yl" style="left:408.10px;top:100.07px">2000</div>
<div class="yk" style="left:473px;top:36px"></div>
<div class="t yl" style="left:408.10px;top:31.07px">2500</div>
<div class="sp" style="left:54px;top:451px"></div>
<div class="ax" style="left:55px;top:452px"><svg class="im" width="342" height="351" viewBox="0 0 342 351"><defs><radialGradient id="g2" gradientUnits="userSpaceOnUse" cx="0" cy="0" r="247.370" gradientTransform="translate(171.000 175.000) scale(1.002533 1)"><stop offset="0.00000" stop-color="#000002"/><stop offset="0.00364" stop-color="#000003"/><stop offset="0.10337" stop-color="#000003"/><stop offset="0.10385" stop-color="#020104"/><stop offset="0.10426" stop-color="#060206"/><stop offset="0.10466" stop-color="#0c0608"/><stop offset="0.10502" stop-color="#160c0c"/><stop offset="0.10535" stop-color="#201410"/><stop offset="0.10571" stop-color="#2f1f16"/><stop offset="0.10604" stop-color="#3f2a1c"/><stop offset="0.10688" stop-color="#694a2c"/><stop offset="0.10713" stop-color="#745331"/><stop offset="0.10737" stop-color="#7e5a34"/><stop offset="0.10765" stop-color="#876138"/><stop offset="0.10790" stop-color="#8d653a"/><stop offset="0.10814" stop-color="#91683b"/><stop offset="0.10838" stop-color="#92693c"/><stop offset="0.10862" stop-color="#91683c"/><stop offset="0.10891" stop-color="#8d653a"/><stop offset="0.10915" stop-color="#876138"/><stop offset="0.10943" stop-color="#7e5a34"/><stop offset="0.10967" stop-color="#745231"/><stop offset="0.10992" stop-color="#694a2c"/><stop offset="0.11077" stop-color="#3f2a1c"/><stop offset="0.11109" stop-color="#2f1f16"/><stop offset="0.11145" stop-color="#201410"/><stop offset="0.11178" stop-color="#160c0c"/><stop offset="0.11214" stop-color="#0c0608"/><stop offset="0.11250" stop-color="#060306"/><stop offset="0.11291" stop-color="#020104"/><stop offset="0.11335" stop-color="#000003"/><stop offset="0.12172" stop-color="#000003"/><stop offset="0.12225" stop-color="#010004"/><stop offset="0.12269" stop-color="#040205"/><stop offset="0.12301" stop-color="#090407"/><stop offset="0.12330" stop-color="#0f0709"/><stop offset="0.12358" stop-color="#160b0b"/><stop offset="0.12390" stop-color="#21120e"/><stop offset="0.12415" stop-color="#2b1811"/><stop offset="0.12439" stop-color="#351f14"/><stop offset="0.12548" stop-color="#6b4221"/><stop offset="0.12576" stop-color="#774924"/><stop offset="0.12601" stop-color="#7f4f27"/><stop offset="0.12625" stop-color="#865328"/><stop offset="0.12645" stop-color="#8b5629"/><stop offset="0.12669" stop-color="#8e582a"/><stop offset="0.12689" stop-color="#8f592a"/><stop offset="0.12714" stop-color="#8d582a"/><stop offset="0.12742" stop-color="#895529"/><stop offset="0.12766" stop-color="#845228"/><stop offset="0.12795" stop-color="#7a4c25"/><stop offset="0.12819" stop-color="#714623"/><stop offset="0.12843" stop-color="#663f20"/><stop offset="0.12928" stop-color="#3c2315"/><stop offset="0.12960" stop-color="#2d1a12"/><stop offset="0.12993" stop-color="#20110e"/><stop offset="0.13025" stop-color="#150b0b"/><stop offset="0.13057" stop-color="#0d0609"/><stop offset="0.13094" stop-color="#070306"/><stop offset="0.13130" stop-color="#030105"/><stop offset="0.13175" stop-color="#000003"/><stop offset="0.18486" stop-color="#000003"/><stop offset="0.18543" stop-color="#020104"/><stop offset="0.18588" stop-color="#060206"/><stop offset="0.18628" stop-color="#0d0509"/><stop offset="0.18668" stop-color="#180b0d"/><stop offset="0.18705" stop-color="#241411"/><stop offset="0.18745" stop-color="#361f16"/><stop offset="0.18782" stop-color="#482c1b"/><stop offset="0.18871" stop-color="#784e28"/><stop offset="0.18895" stop-color="#84562b"/><stop offset="0.18919" stop-color="#8f5d2e"/><stop offset="0.18947" stop-color="#986430"/><stop offset="0.18972" stop-color="#9f6832"/><stop offset="0.18996" stop-color="#a26b33"/><stop offset="0.19020" stop-color="#a46c33"/><stop offset="0.19044" stop-color="#a36b33"/><stop offset="0.19073" stop-color="#9e6832"/><stop offset="0.19097" stop-color="#986430"/><stop offset="0.19125" stop-color="#8e5c2d"/><stop offset="0.19149" stop-color="#83552b"/><stop offset="0.19174" stop-color="#774d28"/><stop offset="0.19259" stop-color="#492d1b"/><stop offset="0.19291" stop-color="#392117"/><stop offset="0.19327" stop-color="#281612"/><stop offset="0.19364" stop-color="#1b0d0e"/><stop offset="0.19400" stop-color="#10070a"/><stop offset="0.19436" stop-color="#090308"/><stop offset="0.19473" stop-color="#040106"/><stop offset="0.19513" stop-color="#010004"/><stop offset="0.19594" stop-color="#000003"/><stop offset="0.22824" stop-color="#000003"/><stop offset="0.22881" stop-color="#020004"/><stop offset="0.22929" stop-color="#060207"/><stop offset="0.22953" stop-color="#090308"/><stop offset="0.22974" stop-color="#0d050a"/><stop offset="0.22998" stop-color="#13080c"/><stop offset="0.23018" stop-color="#190b0e"/><stop offset="0.23059" stop-color="#281412"/><stop offset="0.23099" stop-color="#3b2017"/><stop offset="0.23139" stop-color="#502e1c"/><stop offset="0.23228" stop-color="#825027"/><stop offset="0.23253" stop-color="#8f5929"/><stop offset="0.23277" stop-color="#9a602b"/><stop offset="0.23305" stop-color="#a4672e"/><stop offset="0.23329" stop-color="#ab6c2f"/><stop offset="0.23358" stop-color="#b06f30"/><stop offset="0.23382" stop-color="#b17030"/><stop offset="0.23406" stop-color="#b06f30"/><stop offset="0.23435" stop-color="#ab6c2f"/><stop offset="0.23459" stop-color="#a5672e"/><stop offset="0.23487" stop-color="#9a602c"/><stop offset="0.23511" stop-color="#8f5929"/><stop offset="0.23536" stop-color="#835027"/><stop offset="0.23625" stop-color="#502e1c"/><stop offset="0.23661" stop-color="#3d2118"/><stop offset="0.23701" stop-color="#2a1513"/><stop offset="0.23742" stop-color="#1b0c0e"/><stop offset="0.23778" stop-color="#10070b"/><stop offset="0.23819" stop-color="#080308"/><stop offset="0.23859" stop-color="#030106"/><stop offset="0.23908" stop-color="#010004"/><stop offset="0.23980" stop-color="#000003"/><stop offset="0.24300" stop-color="#000004"/><stop offset="0.24360" stop-color="#030106"/><stop offset="0.24389" stop-color="#060207"/><stop offset="0.24413" stop-color="#0a0309"/><stop offset="0.24441" stop-color="#10060c"/><stop offset="0.24469" stop-color="#18090e"/><stop offset="0.24498" stop-color="#210d11"/><stop offset="0.24526" stop-color="#2d1313"/><stop offset="0.24550" stop-color="#381815"/><stop offset="0.24579" stop-color="#462018"/><stop offset="0.24684" stop-color="#7f3d20"/><stop offset="0.24708" stop-color="#8b4322"/><stop offset="0.24732" stop-color="#954823"/><stop offset="0.24756" stop-color="#9d4d24"/><stop offset="0.24781" stop-color="#a35025"/><stop offset="0.24805" stop-color="#a75226"/><stop offset="0.24829" stop-color="#a85226"/><stop offset="0.24853" stop-color="#a75226"/><stop offset="0.24882" stop-color="#a24f25"/><stop offset="0.24906" stop-color="#9c4c24"/><stop offset="0.24934" stop-color="#914723"/><stop offset="0.24959" stop-color="#874121"/><stop offset="0.24983" stop-color="#7a3b1f"/><stop offset="0.25068" stop-color="#4c2319"/><stop offset="0.25104" stop-color="#391916"/><stop offset="0.25145" stop-color="#271012"/><stop offset="0.25181" stop-color="#1a0a0f"/><stop offset="0.25217" stop-color="#10050c"/><stop offset="0.25258" stop-color="#080208"/><stop offset="0.25298" stop-color="#030106"/><stop offset="0.25343" stop-color="#010004"/><stop offset="0.25432" stop-color="#000003"/><stop offset="0.30169" stop-color="#000003"/><stop offset="0.30234" stop-color="#020005"/><stop offset="0.30287" stop-color="#060208"/><stop offset="0.30311" stop-color="#0a030a"/><stop offset="0.30335" stop-color="#0e040c"/><stop offset="0.30359" stop-color="#14070f"/><stop offset="0.30380" stop-color="#1a0911"/><stop offset="0.30400" stop-color="#210c13"/><stop offset="0.30424" stop-color="#2b1016"/><stop offset="0.30469" stop-color="#3f1a1a"/><stop offset="0.30509" stop-color="#55251e"/><stop offset="0.30606" stop-color="#8c4123"/><stop offset="0.30630" stop-color="#994824"/><stop offset="0.30654" stop-color="#a44e25"/><stop offset="0.30683" stop-color="#af5326"/><stop offset="0.30707" stop-color="#b65727"/><stop offset="0.30735" stop-color="#ba5928"/><stop offset="0.30760" stop-color="#bc5a28"/><stop offset="0.30784" stop-color="#bb5928"/><stop offset="0.30812" stop-color="#b65727"/><stop offset="0.30840" stop-color="#ae5327"/><stop offset="0.30869" stop-color="#a34d26"/><stop offset="0.30893" stop-color="#984725"/><stop offset="0.30917" stop-color="#8c4123"/><stop offset="0.31010" stop-color="#56251e"/><stop offset="0.31051" stop-color="#411a1b"/><stop offset="0.31091" stop-color="#2e1117"/><stop offset="0.31127" stop-color="#1f0b13"/><stop offset="0.31164" stop-color="#14060f"/><stop offset="0.31204" stop-color="#0b030b"/><stop offset="0.31245" stop-color="#050107"/><stop offset="0.31293" stop-color="#010005"/><stop offset="0.31334" stop-color="#000003"/><stop offset="0.31394" stop-color="#000003"/><stop offset="0.34891" stop-color="#000003"/><stop offset="0.34960" stop-color="#020005"/><stop offset="0.35012" stop-color="#060209"/><stop offset="0.35037" stop-color="#0a030b"/><stop offset="0.35061" stop-color="#0f040e"/><stop offset="0.35085" stop-color="#150610"/><stop offset="0.35109" stop-color="#1c0913"/><stop offset="0.35130" stop-color="#230c16"/><stop offset="0.35154" stop-color="#2d1118"/><stop offset="0.35178" stop-color="#38161b"/><stop offset="0.35202" stop-color="#441c1e"/><stop offset="0.35243" stop-color="#5a2721"/><stop offset="0.35295" stop-color="#793824"/><stop offset="0.35360" stop-color="#9e4f25"/><stop offset="0.35384" stop-color="#ab5625"/><stop offset="0.35408" stop-color="#b75d25"/><stop offset="0.35437" stop-color="#c26425"/><stop offset="0.35465" stop-color="#cb6925"/><stop offset="0.35493" stop-color="#d06d25"/><stop offset="0.35522" stop-color="#d26e25"/><stop offset="0.35550" stop-color="#d06d25"/><stop offset="0.35578" stop-color="#cc6a25"/><stop offset="0.35607" stop-color="#c36525"/><stop offset="0.35635" stop-color="#b85e25"/><stop offset="0.35663" stop-color="#ab5626"/><stop offset="0.35691" stop-color="#9c4d26"/><stop offset="0.35760" stop-color="#743524"/><stop offset="0.35825" stop-color="#4f2120"/><stop offset="0.35853" stop-color="#40191d"/><stop offset="0.35881" stop-color="#32131a"/><stop offset="0.35906" stop-color="#280e17"/><stop offset="0.35930" stop-color="#1f0a14"/><stop offset="0.35950" stop-color="#180812"/><stop offset="0.35974" stop-color="#12050f"/><stop offset="0.35995" stop-color="#0d040d"/><stop offset="0.36019" stop-color="#09020a"/><stop offset="0.36067" stop-color="#030106"/><stop offset="0.36120" stop-color="#010004"/><stop offset="0.36209" stop-color="#000003"/><stop offset="0.36528" stop-color="#000003"/><stop offset="0.36593" stop-color="#000004"/><stop offset="0.36629" stop-color="#020005"/><stop offset="0.36662" stop-color="#040107"/><stop offset="0.36694" stop-color="#08020a"/><stop offset="0.36722" stop-color="#0c030d"/><stop offset="0.36755" stop-color="#140611"/><stop offset="0.36787" stop-color="#1e0915"/><stop offset="0.36819" stop-color="#2a0e19"/><stop offset="0.36852" stop-color="#38141d"/><stop offset="0.36900" stop-color="#501f22"/><stop offset="0.36961" stop-color="#733126"/><stop offset="0.37005" stop-color="#8d3f28"/><stop offset="0.37038" stop-color="#9f4828"/><stop offset="0.37066" stop-color="#ad5028"/><stop offset="0.37094" stop-color="#ba5728"/><stop offset="0.37123" stop-color="#c45d27"/><stop offset="0.37147" stop-color="#cb6127"/><stop offset="0.37175" stop-color="#d06327"/><stop offset="0.37199" stop-color="#d16427"/><stop offset="0.37228" stop-color="#cf6327"/><stop offset="0.37256" stop-color="#ca6027"/><stop offset="0.37284" stop-color="#c25c28"/><stop offset="0.37317" stop-color="#b65528"/><stop offset="0.37337" stop-color="#ac5028"/><stop offset="0.37361" stop-color="#a04928"/><stop offset="0.37426" stop-color="#7b3527"/><stop offset="0.37478" stop-color="#5d2525"/><stop offset="0.37519" stop-color="#471b21"/><stop offset="0.37563" stop-color="#31111c"/><stop offset="0.37587" stop-color="#270d19"/><stop offset="0.37608" stop-color="#200a16"/><stop offset="0.37648" stop-color="#140611"/><stop offset="0.37668" stop-color="#0f040e"/><stop offset="0.37693" stop-color="#0a030c"/><stop offset="0.37741" stop-color="#040107"/><stop offset="0.37794" stop-color="#010004"/><stop offset="0.37899" stop-color="#000003"/><stop offset="0.43805" stop-color="#000003"/><stop offset="0.43882" stop-color="#020006"/><stop offset="0.43910" stop-color="#040107"/><stop offset="0.43938" stop-color="#07020a"/><stop offset="0.43967" stop-color="#0b030d"/><stop offset="0.43991" stop-color="#0f0410"/><stop offset="0.44019" stop-color="#160614"/><stop offset="0.44043" stop-color="#1e0818"/><stop offset="0.44084" stop-color="#2c0e1e"/><stop offset="0.44124" stop-color="#3e1524"/><stop offset="0.44173" stop-color="#57202a"/><stop offset="0.44221" stop-color="#722d2d"/><stop offset="0.44266" stop-color="#8c3b2e"/><stop offset="0.44314" stop-color="#a74b2d"/><stop offset="0.44347" stop-color="#b7552b"/><stop offset="0.44379" stop-color="#c65e28"/><stop offset="0.44415" stop-color="#d36725"/><stop offset="0.44452" stop-color="#dd6e22"/><stop offset="0.44472" stop-color="#e17121"/><stop offset="0.44488" stop-color="#e37220"/><stop offset="0.44520" stop-color="#e57320"/><stop offset="0.44553" stop-color="#e37220"/><stop offset="0.44569" stop-color="#e17021"/><stop offset="0.44589" stop-color="#dd6e22"/><stop offset="0.44625" stop-color="#d36725"/><stop offset="0.44662" stop-color="#c65e29"/><stop offset="0.44694" stop-color="#b7542b"/><stop offset="0.44727" stop-color="#a74a2e"/><stop offset="0.44775" stop-color="#8c3b2f"/><stop offset="0.44824" stop-color="#702c2e"/><stop offset="0.44876" stop-color="#531e2a"/><stop offset="0.44921" stop-color="#3c1424"/><stop offset="0.44961" stop-color="#2b0d1e"/><stop offset="0.45001" stop-color="#1c0818"/><stop offset="0.45026" stop-color="#150614"/><stop offset="0.45054" stop-color="#0f0410"/><stop offset="0.45078" stop-color="#0a030d"/><stop offset="0.45107" stop-color="#06010a"/><stop offset="0.45163" stop-color="#020005"/><stop offset="0.45240" stop-color="#000003"/><stop offset="0.50087" stop-color="#000003"/><stop offset="0.50164" stop-color="#000003"/><stop offset="0.50216" stop-color="#010005"/><stop offset="0.50273" stop-color="#040109"/><stop offset="0.50321" stop-color="#0a020f"/><stop offset="0.50366" stop-color="#120416"/><stop offset="0.50410" stop-color="#1d071f"/><stop offset="0.50451" stop-color="#2a0a27"/><stop offset="0.50491" stop-color="#390f30"/><stop offset="0.50536" stop-color="#4c1439"/><stop offset="0.50592" stop-color="#661d43"/><stop offset="0.50633" stop-color="#792348"/><stop offset="0.50673" stop-color="#8c294b"/><stop offset="0.50701" stop-color="#972d4d"/><stop offset="0.50730" stop-color="#a2314e"/><stop offset="0.50766" stop-color="#ad354f"/><stop offset="0.50802" stop-color="#b5384f"/><stop offset="0.50835" stop-color="#b9394f"/><stop offset="0.50867" stop-color="#bb3a4f"/><stop offset="0.50899" stop-color="#b9394f"/><stop offset="0.50932" stop-color="#b5384f"/><stop offset="0.50968" stop-color="#ad354f"/><stop offset="0.51005" stop-color="#a2314e"/><stop offset="0.51033" stop-color="#982d4e"/><stop offset="0.51065" stop-color="#8b294c"/><stop offset="0.51106" stop-color="#782348"/><stop offset="0.51146" stop-color="#651c43"/><stop offset="0.51207" stop-color="#491438"/><stop offset="0.51251" stop-color="#370e2f"/><stop offset="0.51296" stop-color="#260a26"/><stop offset="0.51336" stop-color="#1a061d"/><stop offset="0.51385" stop-color="#0f0414"/><stop offset="0.51433" stop-color="#07020d"/><stop offset="0.51486" stop-color="#030107"/><stop offset="0.51550" stop-color="#000004"/><stop offset="0.51692" stop-color="#000003"/><stop offset="0.62974" stop-color="#000003"/><stop offset="0.63112" stop-color="#000004"/><stop offset="0.63181" stop-color="#020107"/><stop offset="0.63241" stop-color="#07020d"/><stop offset="0.63298" stop-color="#0e0316"/><stop offset="0.63350" stop-color="#190621"/><stop offset="0.63403" stop-color="#28092d"/><stop offset="0.63456" stop-color="#390e3a"/><stop offset="0.63500" stop-color="#4b1343"/><stop offset="0.63536" stop-color="#5a174a"/><stop offset="0.63573" stop-color="#691b50"/><stop offset="0.63609" stop-color="#782054"/><stop offset="0.63654" stop-color="#8a2657"/><stop offset="0.63702" stop-color="#9b2c57"/><stop offset="0.63743" stop-color="#a83156"/><stop offset="0.63783" stop-color="#b23553"/><stop offset="0.63823" stop-color="#ba3951"/><stop offset="0.63864" stop-color="#c03b4e"/><stop offset="0.63904" stop-color="#c33d4d"/><stop offset="0.63949" stop-color="#c43d4c"/><stop offset="0.63993" stop-color="#c33d4d"/><stop offset="0.64034" stop-color="#bf3b4f"/><stop offset="0.64074" stop-color="#ba3851"/><stop offset="0.64114" stop-color="#b23554"/><stop offset="0.64155" stop-color="#a73156"/><stop offset="0.64195" stop-color="#9b2c57"/><stop offset="0.64244" stop-color="#892657"/><stop offset="0.64288" stop-color="#782054"/><stop offset="0.64321" stop-color="#6a1c51"/><stop offset="0.64357" stop-color="#5b174b"/><stop offset="0.64393" stop-color="#4c1345"/><stop offset="0.64438" stop-color="#3b0e3b"/><stop offset="0.64490" stop-color="#290a2f"/><stop offset="0.64539" stop-color="#1b0623"/><stop offset="0.64587" stop-color="#110419"/><stop offset="0.64640" stop-color="#080210"/><stop offset="0.64701" stop-color="#030109"/><stop offset="0.64761" stop-color="#010005"/><stop offset="0.64818" stop-color="#000003"/><stop offset="0.64919" stop-color="#000003"/><stop offset="0.72915" stop-color="#000003"/><stop offset="0.73061" stop-color="#000004"/><stop offset="0.73129" stop-color="#010006"/><stop offset="0.73190" stop-color="#05010c"/><stop offset="0.73222" stop-color="#080210"/><stop offset="0.73255" stop-color="#0c0315"/><stop offset="0.73287" stop-color="#11041c"/><stop offset="0.73319" stop-color="#170523"/><stop offset="0.73360" stop-color="#21072c"/><stop offset="0.73400" stop-color="#2c0a36"/><stop offset="0.73445" stop-color="#3b0e41"/><stop offset="0.73497" stop-color="#4d124c"/><stop offset="0.73554" stop-color="#631856"/><stop offset="0.73606" stop-color="#761e5b"/><stop offset="0.73659" stop-color="#89245d"/><stop offset="0.73720" stop-color="#9b2b5c"/><stop offset="0.73768" stop-color="#a83059"/><stop offset="0.73821" stop-color="#b33555"/><stop offset="0.73877" stop-color="#bc3951"/><stop offset="0.73934" stop-color="#c33c4e"/><stop offset="0.73990" stop-color="#c73e4b"/><stop offset="0.74047" stop-color="#c83f4b"/><stop offset="0.74104" stop-color="#c73e4b"/><stop offset="0.74160" stop-color="#c33c4d"/><stop offset="0.74217" stop-color="#bd3951"/><stop offset="0.74273" stop-color="#b43555"/><stop offset="0.74330" stop-color="#a83059"/><stop offset="0.74383" stop-color="#9b2a5d"/><stop offset="0.74443" stop-color="#88245e"/><stop offset="0.74496" stop-color="#761e5c"/><stop offset="0.74544" stop-color="#641957"/><stop offset="0.74597" stop-color="#51134f"/><stop offset="0.74633" stop-color="#431047"/><stop offset="0.74674" stop-color="#360c3e"/><stop offset="0.74738" stop-color="#22082e"/><stop offset="0.74783" stop-color="#180524"/><stop offset="0.74827" stop-color="#0f031a"/><stop offset="0.74872" stop-color="#090212"/><stop offset="0.74920" stop-color="#04010b"/><stop offset="0.74961" stop-color="#020107"/><stop offset="0.75001" stop-color="#010005"/><stop offset="0.75045" stop-color="#000004"/><stop offset="0.75102" stop-color="#000003"/><stop offset="0.76768" stop-color="#000003"/><stop offset="0.76897" stop-color="#000004"/><stop offset="0.76966" stop-color="#010006"/><stop offset="0.77030" stop-color="#05010c"/><stop offset="0.77067" stop-color="#080211"/><stop offset="0.77099" stop-color="#0c0317"/><stop offset="0.77131" stop-color="#11041d"/><stop offset="0.77164" stop-color="#170524"/><stop offset="0.77204" stop-color="#21072e"/><stop offset="0.77249" stop-color="#2d0a39"/><stop offset="0.77293" stop-color="#3b0e43"/><stop offset="0.77346" stop-color="#4d124f"/><stop offset="0.77402" stop-color="#621858"/><stop offset="0.77459" stop-color="#761d5e"/><stop offset="0.77515" stop-color="#882360"/><stop offset="0.77580" stop-color="#9b2a5e"/><stop offset="0.77637" stop-color="#a9305a"/><stop offset="0.77697" stop-color="#b43555"/><stop offset="0.77758" stop-color="#bd3951"/><stop offset="0.77823" stop-color="#c43d4d"/><stop offset="0.77883" stop-color="#c83f4a"/><stop offset="0.77948" stop-color="#c9404a"/><stop offset="0.78013" stop-color="#c83f4a"/><stop offset="0.78077" stop-color="#c43d4d"/><stop offset="0.78142" stop-color="#bd3951"/><stop offset="0.78203" stop-color="#b43555"/><stop offset="0.78263" stop-color="#a82f5a"/><stop offset="0.78320" stop-color="#9b2a5e"/><stop offset="0.78385" stop-color="#882360"/><stop offset="0.78417" stop-color="#7e205f"/><stop offset="0.78445" stop-color="#741d5e"/><stop offset="0.78502" stop-color="#601758"/><stop offset="0.78558" stop-color="#4c124f"/><stop offset="0.78611" stop-color="#3a0d44"/><stop offset="0.78655" stop-color="#2c0a39"/><stop offset="0.78696" stop-color="#21082f"/><stop offset="0.78736" stop-color="#180525"/><stop offset="0.78797" stop-color="#0d0318"/><stop offset="0.78829" stop-color="#090212"/><stop offset="0.78862" stop-color="#06010e"/><stop offset="0.78922" stop-color="#020107"/><stop offset="0.78987" stop-color="#000004"/><stop offset="0.79052" stop-color="#000003"/><stop offset="0.79185" stop-color="#000003"/><stop offset="0.95739" stop-color="#000003"/><stop offset="0.95945" stop-color="#000004"/><stop offset="0.96030" stop-color="#010107"/><stop offset="0.96099" stop-color="#04010c"/><stop offset="0.96131" stop-color="#060210"/><stop offset="0.96168" stop-color="#0a0316"/><stop offset="0.96204" stop-color="#0e041d"/><stop offset="0.96240" stop-color="#140525"/><stop offset="0.96285" stop-color="#1c062f"/><stop offset="0.96333" stop-color="#27093b"/><stop offset="0.96398" stop-color="#380c4b"/><stop offset="0.96451" stop-color="#470f55"/><stop offset="0.96487" stop-color="#51125c"/><stop offset="0.96519" stop-color="#5a1460"/><stop offset="0.96552" stop-color="#641763"/><stop offset="0.96588" stop-color="#6d1966"/><stop offset="0.96629" stop-color="#781c67"/><stop offset="0.96669" stop-color="#822067"/><stop offset="0.96717" stop-color="#8c2365"/><stop offset="0.96770" stop-color="#972762"/><stop offset="0.96867" stop-color="#a82e5c"/><stop offset="0.96964" stop-color="#b53556"/><stop offset="0.97061" stop-color="#bf3a50"/><stop offset="0.97162" stop-color="#c73e4b"/><stop offset="0.97263" stop-color="#cc4148"/><stop offset="0.97368" stop-color="#cd4247"/><stop offset="0.97473" stop-color="#cb4148"/><stop offset="0.97574" stop-color="#c73e4b"/><stop offset="0.97676" stop-color="#bf3a50"/><stop offset="0.97773" stop-color="#b53556"/><stop offset="0.97874" stop-color="#a72e5d"/><stop offset="0.97971" stop-color="#972763"/><stop offset="0.98023" stop-color="#8d2365"/><stop offset="0.98076" stop-color="#811f67"/><stop offset="0.98116" stop-color="#781c67"/><stop offset="0.98157" stop-color="#6e1966"/><stop offset="0.98189" stop-color="#651764"/><stop offset="0.98221" stop-color="#5c1562"/><stop offset="0.98254" stop-color="#53125e"/><stop offset="0.98286" stop-color="#4a1059"/><stop offset="0.98351" stop-color="#380c4c"/><stop offset="0.98399" stop-color="#2c0a41"/><stop offset="0.98444" stop-color="#210736"/><stop offset="0.98492" stop-color="#17052a"/><stop offset="0.98537" stop-color="#100420"/><stop offset="0.98581" stop-color="#0a0317"/><stop offset="0.98626" stop-color="#060210"/><stop offset="0.98670" stop-color="#03010b"/><stop offset="0.98719" stop-color="#010107"/><stop offset="0.98771" stop-color="#000005"/><stop offset="0.98832" stop-color="#000004"/><stop offset="0.99725" stop-color="#000003"/><stop offset="1.00000" stop-color="#000002"/></radialGradient></defs><rect width="342" height="351" fill="url(#g2)"/><svg x="67" y="0" width="1" height="351" viewBox="67 0 1 351"><rect x="-2" y="-2" width="346" height="355" fill="#000003"/><rect x="-2" y="-2" width="346" height="355" fill="url(#g2)" transform="translate(0.228 0)" fill-opacity="0.621"/></svg><svg x="68" y="0" width="1" height="351" viewBox="68 0 1 351"><rect x="-2" y="-2" width="346" height="355" fill="#000003"/><rect x="-2" y="-2" width="346" height="355" fill="url(#g2)" transform="translate(-0.355 0)" fill-opacity="0.406"/></svg><svg x="135" y="0" width="1" height="351" viewBox="135 0 1 351"><rect x="-2" y="-2" width="346" height="355" fill="#000003"/><rect x="-2" y="-2" width="346" height="355" fill="url(#g2)" transform="translate(0.014 0)" fill-opacity="0.982"/></svg><svg x="136" y="0" width="1" height="351" viewBox="136 0 1 351"><rect x="-2" y="-2" width="346" height="355" fill="#000003"/><rect x="-2" y="-2" width="346" height="355" fill="url(#g2)" transform="translate(0.479 0)" fill-opacity="0.240"/><rect x="-2" y="-2" width="346" height="355" fill="url(#g2)" transform="translate(-0.768 0)" fill-opacity="0.024"/></svg><svg x="137" y="0" width="1" height="351" viewBox="137 0 1 351"><rect x="-2" y="-2" width="346" height="355" fill="#000003"/><rect x="-2" y="-2" width="346" height="355" fill="url(#g2)" transform="translate(-0.134 0)" fill-opacity="0.788"/></svg><svg x="204" y="0" width="1" height="351" viewBox="204 0 1 351"><rect x="-2" y="-2" width="346" height="355" fill="#000003"/><rect x="-2" y="-2" width="346" height="355" fill="url(#g2)" transform="translate(0.134 0)" fill-opacity="0.788"/></svg><svg x="205" y="0" width="1" height="351" viewBox="205 0 1 351"><rect x="-2" y="-2" width="346" height="355" fill="#000003"/><rect x="-2" y="-2" width="346" height="355" fill="url(#g2)" transform="translate(0.768 0)" fill-opacity="0.031"/><rect x="-2" y="-2" width="346" height="355" fill="url(#g2)" transform="translate(-0.479 0)" fill-opacity="0.235"/></svg><svg x="206" y="0" width="1" height="351" viewBox="206 0 1 351"><rect x="-2" y="-2" width="346" height="355" fill="#000003"/><rect x="-2" y="-2" width="346" height="355" fill="url(#g2)" transform="translate(-0.014 0)" fill-opacity="0.982"/></svg><svg x="273" y="0" width="1" height="351" viewBox="273 0 1 351"><rect x="-2" y="-2" width="346" height="355" fill="#000003"/><rect x="-2" y="-2" width="346" height="355" fill="url(#g2)" transform="translate(0.355 0)" fill-opacity="0.406"/></svg><svg x="274" y="0" width="1" height="351" viewBox="274 0 1 351"><rect x="-2" y="-2" width="346" height="355" fill="#000003"/><rect x="-2" y="-2" width="346" height="355" fill="url(#g2)" transform="translate(-0.228 0)" fill-opacity="0.621"/></svg><svg x="0" y="320" width="342" height="1" viewBox="0 320 342 1"><rect x="-2" y="-2" width="346" height="355" fill="#000003"/><rect x="-2" y="-2" width="346" height="355" fill="url(#g2)" transform="translate(0 0.220)" fill-opacity="0.635"/></svg><svg x="0" y="321" width="342" height="1" viewBox="0 321 342 1"><rect x="-2" y="-2" width="346" height="355" fill="#000003"/></svg><svg x="0" y="322" width="342" height="1" viewBox="0 322 342 1"><rect x="-2" y="-2" width="346" height="355" fill="#000003"/><rect x="-2" y="-2" width="346" height="355" fill="url(#g2)" transform="translate(0 -0.624)" fill-opacity="0.095"/></svg><svg x="0" y="323" width="342" height="1" viewBox="0 323 342 1"><rect x="-2" y="-2" width="346" height="355" fill="#000003"/><rect x="-2" y="-2" width="346" height="355" fill="url(#g2)" transform="translate(0 -0.060)" fill-opacity="0.913"/></svg><svg x="0" y="290" width="342" height="1" viewBox="0 290 342 1"><rect x="-2" y="-2" width="346" height="355" fill="#000003"/><rect x="-2" y="-2" width="346" height="355" fill="url(#g2)" transform="translate(0 0.008)" fill-opacity="0.991"/></svg><svg x="0" y="291" width="342" height="1" viewBox="0 291 342 1"><rect x="-2" y="-2" width="346" height="355" fill="#000003"/><rect x="-2" y="-2" width="346" height="355" fill="url(#g2)" transform="translate(0 0.440)" fill-opacity="0.283"/></svg><svg x="0" y="292" width="342" height="1" viewBox="0 292 342 1"><rect x="-2" y="-2" width="346" height="355" fill="#000003"/></svg><svg x="0" y="293" width="342" height="1" viewBox="0 293 342 1"><rect x="-2" y="-2" width="346" height="355" fill="#000003"/><rect x="-2" y="-2" width="346" height="355" fill="url(#g2)" transform="translate(0 -0.377)" fill-opacity="0.373"/></svg><svg x="0" y="261" width="342" height="1" viewBox="0 261 342 1"><rect x="-2" y="-2" width="346" height="355" fill="#000003"/><rect x="-2" y="-2" width="346" height="355" fill="url(#g2)" transform="translate(0 0.093)" fill-opacity="0.859"/></svg><svg x="0" y="262" width="342" height="1" viewBox="0 262 342 1"><rect x="-2" y="-2" width="346" height="355" fill="#000003"/><rect x="-2" y="-2" width="346" height="355" fill="url(#g2)" transform="translate(0 0.694)" fill-opacity="0.053"/></svg><svg x="0" y="263" width="342" height="1" viewBox="0 263 342 1"><rect x="-2" y="-2" width="346" height="355" fill="#000003"/><rect x="-2" y="-2" width="346" height="355" fill="url(#g2)" transform="translate(0 -0.825)" fill-opacity="0.010"/></svg><svg x="0" y="264" width="342" height="1" viewBox="0 264 342 1"><rect x="-2" y="-2" width="346" height="355" fill="#000003"/><rect x="-2" y="-2" width="346" height="355" fill="url(#g2)" transform="translate(0 -0.170)" fill-opacity="0.724"/></svg><svg x="0" y="232" width="342" height="1" viewBox="0 232 342 1"><rect x="-2" y="-2" width="346" height="355" fill="#000003"/><rect x="-2" y="-2" width="346" height="355" fill="url(#g2)" transform="translate(0 0.269)" fill-opacity="0.548"/></svg><svg x="0" y="233" width="342" height="1" viewBox="0 233 342 1"><rect x="-2" y="-2" width="346" height="355" fill="#000003"/></svg><svg x="0" y="234" width="342" height="1" viewBox="0 234 342 1"><rect x="-2" y="-2" width="346" height="355" fill="#000003"/><rect x="-2" y="-2" width="346" height="355" fill="url(#g2)" transform="translate(0 -0.561)" fill-opacity="0.147"/></svg><svg x="0" y="235" width="342" height="1" viewBox="0 235 342 1"><rect x="-2" y="-2" width="346" height="355" fill="#000003"/><rect x="-2" y="-2" width="346" height="355" fill="url(#g2)" transform="translate(0 -0.037)" fill-opacity="0.950"/></svg><svg x="0" y="202" width="342" height="1" viewBox="0 202 342 1"><rect x="-2" y="-2" width="346" height="355" fill="#000003"/><rect x="-2" y="-2" width="346" height="355" fill="url(#g2)" transform="translate(0 0.019)" fill-opacity="0.976"/></svg><svg x="0" y="203" width="342" height="1" viewBox="0 203 342 1"><rect x="-2" y="-2" width="346" height="355" fill="#000003"/><rect x="-2" y="-2" width="346" height="355" fill="url(#g2)" transform="translate(0 0.500)" fill-opacity="0.210"/></svg><svg x="0" y="204" width="342" height="1" viewBox="0 204 342 1"><rect x="-2" y="-2" width="346" height="355" fill="#000003"/></svg><svg x="0" y="205" width="342" height="1" viewBox="0 205 342 1"><rect x="-2" y="-2" width="346" height="355" fill="#000003"/><rect x="-2" y="-2" width="346" height="355" fill="url(#g2)" transform="translate(0 -0.322)" fill-opacity="0.460"/></svg><svg x="0" y="173" width="342" height="1" viewBox="0 173 342 1"><rect x="-2" y="-2" width="346" height="355" fill="#000003"/><rect x="-2" y="-2" width="346" height="355" fill="url(#g2)" transform="translate(0 0.129)" fill-opacity="0.796"/></svg><svg x="0" y="174" width="342" height="1" viewBox="0 174 342 1"><rect x="-2" y="-2" width="346" height="355" fill="#000003"/><rect x="-2" y="-2" width="346" height="355" fill="url(#g2)" transform="translate(0 0.759)" fill-opacity="0.026"/></svg><svg x="0" y="175" width="342" height="1" viewBox="0 175 342 1"><rect x="-2" y="-2" width="346" height="355" fill="#000003"/><rect x="-2" y="-2" width="346" height="355" fill="url(#g2)" transform="translate(0 -0.759)" fill-opacity="0.026"/></svg><svg x="0" y="176" width="342" height="1" viewBox="0 176 342 1"><rect x="-2" y="-2" width="346" height="355" fill="#000003"/><rect x="-2" y="-2" width="346" height="355" fill="url(#g2)" transform="translate(0 -0.129)" fill-opacity="0.796"/></svg><svg x="0" y="144" width="342" height="1" viewBox="0 144 342 1"><rect x="-2" y="-2" width="346" height="355" fill="#000003"/><rect x="-2" y="-2" width="346" height="355" fill="url(#g2)" transform="translate(0 0.322)" fill-opacity="0.460"/></svg><svg x="0" y="145" width="342" height="1" viewBox="0 145 342 1"><rect x="-2" y="-2" width="346" height="355" fill="#000003"/></svg><svg x="0" y="146" width="342" height="1" viewBox="0 146 342 1"><rect x="-2" y="-2" width="346" height="355" fill="#000003"/><rect x="-2" y="-2" width="346" height="355" fill="url(#g2)" transform="translate(0 -0.500)" fill-opacity="0.210"/></svg><svg x="0" y="147" width="342" height="1" viewBox="0 147 342 1"><rect x="-2" y="-2" width="346" height="355" fill="#000003"/><rect x="-2" y="-2" width="346" height="355" fill="url(#g2)" transform="translate(0 -0.019)" fill-opacity="0.976"/></svg><svg x="0" y="114" width="342" height="1" viewBox="0 114 342 1"><rect x="-2" y="-2" width="346" height="355" fill="#000003"/><rect x="-2" y="-2" width="346" height="355" fill="url(#g2)" transform="translate(0 0.037)" fill-opacity="0.950"/></svg><svg x="0" y="115" width="342" height="1" viewBox="0 115 342 1"><rect x="-2" y="-2" width="346" height="355" fill="#000003"/><rect x="-2" y="-2" width="346" height="355" fill="url(#g2)" transform="translate(0 0.561)" fill-opacity="0.147"/></svg><svg x="0" y="116" width="342" height="1" viewBox="0 116 342 1"><rect x="-2" y="-2" width="346" height="355" fill="#000003"/></svg><svg x="0" y="117" width="342" height="1" viewBox="0 117 342 1"><rect x="-2" y="-2" width="346" height="355" fill="#000003"/><rect x="-2" y="-2" width="346" height="355" fill="url(#g2)" transform="translate(0 -0.269)" fill-opacity="0.548"/></svg><svg x="0" y="85" width="342" height="1" viewBox="0 85 342 1"><rect x="-2" y="-2" width="346" height="355" fill="#000003"/><rect x="-2" y="-2" width="346" height="355" fill="url(#g2)" transform="translate(0 0.170)" fill-opacity="0.724"/></svg><svg x="0" y="86" width="342" height="1" viewBox="0 86 342 1"><rect x="-2" y="-2" width="346" height="355" fill="#000003"/><rect x="-2" y="-2" width="346" height="355" fill="url(#g2)" transform="translate(0 0.825)" fill-opacity="0.010"/></svg><svg x="0" y="87" width="342" height="1" viewBox="0 87 342 1"><rect x="-2" y="-2" width="346" height="355" fill="#000003"/><rect x="-2" y="-2" width="346" height="355" fill="url(#g2)" transform="translate(0 -0.694)" fill-opacity="0.053"/></svg><svg x="0" y="88" width="342" height="1" viewBox="0 88 342 1"><rect x="-2" y="-2" width="346" height="355" fill="#000003"/><rect x="-2" y="-2" width="346" height="355" fill="url(#g2)" transform="translate(0 -0.093)" fill-opacity="0.859"/></svg><svg x="0" y="56" width="342" height="1" viewBox="0 56 342 1"><rect x="-2" y="-2" width="346" height="355" fill="#000003"/><rect x="-2" y="-2" width="346" height="355" fill="url(#g2)" transform="translate(0 0.377)" fill-opacity="0.373"/></svg><svg x="0" y="57" width="342" height="1" viewBox="0 57 342 1"><rect x="-2" y="-2" width="346" height="355" fill="#000003"/></svg><svg x="0" y="58" width="342" height="1" viewBox="0 58 342 1"><rect x="-2" y="-2" width="346" height="355" fill="#000003"/><rect x="-2" y="-2" width="346" height="355" fill="url(#g2)" transform="translate(0 -0.440)" fill-opacity="0.283"/></svg><svg x="0" y="59" width="342" height="1" viewBox="0 59 342 1"><rect x="-2" y="-2" width="346" height="355" fill="#000003"/><rect x="-2" y="-2" width="346" height="355" fill="url(#g2)" transform="translate(0 -0.008)" fill-opacity="0.991"/></svg><svg x="0" y="26" width="342" height="1" viewBox="0 26 342 1"><rect x="-2" y="-2" width="346" height="355" fill="#000003"/><rect x="-2" y="-2" width="346" height="355" fill="url(#g2)" transform="translate(0 0.060)" fill-opacity="0.913"/></svg><svg x="0" y="27" width="342" height="1" viewBox="0 27 342 1"><rect x="-2" y="-2" width="346" height="355" fill="#000003"/><rect x="-2" y="-2" width="346" height="355" fill="url(#g2)" transform="translate(0 0.624)" fill-opacity="0.095"/></svg><svg x="0" y="28" width="342" height="1" viewBox="0 28 342 1"><rect x="-2" y="-2" width="346" height="355" fill="#000003"/></svg><svg x="0" y="29" width="342" height="1" viewBox="0 29 342 1"><rect x="-2" y="-2" width="346" height="355" fill="#000003"/><rect x="-2" y="-2" width="346" height="355" fill="url(#g2)" transform="translate(0 -0.220)" fill-opacity="0.635"/></svg></svg><div class="bd"></div></div>
<div class="t ti" style="left:54.77px;top:431.00px">CeO2</div>
<div class="xk" style="left:55px;top:803px"></div>
<div class="t xl" style="left:55.40px;top:812.07px">0</div>
<div class="xk" style="left:124px;top:803px"></div>
<div class="t xl" style="left:123.15px;top:812.07px">500</div>
<div class="xk" style="left:193px;top:803px"></div>
<div class="t xl" style="left:192.53px;top:812.07px">1000</div>
<div class="xk" style="left:263px;top:803px"></div>
<div class="t xl" style="left:262.52px;top:812.07px">1500</div>
<div class="xk" style="left:332px;top:803px"></div>
<div class="t xl" style="left:331.52px;top:812.07px">2000</div>
<div class="yk" style="left:50px;top:802px"></div>
<div class="t yl" style="left:-14.28px;top:797.07px">0</div>
<div class="yk" style="left:50px;top:733px"></div>
<div class="t yl" style="left:-15.65px;top:728.07px">500</div>
<div class="yk" style="left:50px;top:664px"></div>
<div class="t yl" style="left:-14.78px;top:658.07px">1000</div>
<div class="yk" style="left:50px;top:594px"></div>
<div class="t yl" style="left:-14.78px;top:589.07px">1500</div>
<div class="yk" style="left:50px;top:525px"></div>
<div class="t yl" style="left:-14.90px;top:520.07px">2000</div>
<div class="yk" style="left:50px;top:456px"></div>
<div class="t yl" style="left:-14.90px;top:451.07px">2500</div>
<div class="sp" style="left:477px;top:451px"></div>
<div class="ax" style="left:478px;top:452px"><svg class="im" width="342" height="351" viewBox="0 0 342 351"><defs><radialGradient id="g3" gradientUnits="userSpaceOnUse" cx="0" cy="0" r="247.370" gradientTransform="translate(171.000 175.000) scale(1.002533 1)"><stop offset="0.00000" stop-color="#000002"/><stop offset="0.00360" stop-color="#000003"/><stop offset="0.09164" stop-color="#000003"/><stop offset="0.09209" stop-color="#020104"/><stop offset="0.09249" stop-color="#050206"/><stop offset="0.09286" stop-color="#0b0508"/><stop offset="0.09322" stop-color="#140b0b"/><stop offset="0.09354" stop-color="#1e120e"/><stop offset="0.09387" stop-color="#2b1a12"/><stop offset="0.09419" stop-color="#3a2417"/><stop offset="0.09504" stop-color="#634023"/><stop offset="0.09528" stop-color="#6d4826"/><stop offset="0.09552" stop-color="#774e29"/><stop offset="0.09581" stop-color="#80542c"/><stop offset="0.09605" stop-color="#85582d"/><stop offset="0.09633" stop-color="#895b2e"/><stop offset="0.09658" stop-color="#8a5c2f"/><stop offset="0.09682" stop-color="#895b2e"/><stop offset="0.09706" stop-color="#86592d"/><stop offset="0.09730" stop-color="#80552c"/><stop offset="0.09759" stop-color="#774f29"/><stop offset="0.09783" stop-color="#6e4826"/><stop offset="0.09807" stop-color="#644123"/><stop offset="0.09892" stop-color="#3b2517"/><stop offset="0.09924" stop-color="#2c1b12"/><stop offset="0.09957" stop-color="#1f120f"/><stop offset="0.09985" stop-color="#160c0c"/><stop offset="0.10017" stop-color="#0e0709"/><stop offset="0.10050" stop-color="#070306"/><stop offset="0.10082" stop-color="#030105"/><stop offset="0.10118" stop-color="#010004"/><stop offset="0.10195" stop-color="#000003"/><stop offset="0.13041" stop-color="#000003"/><stop offset="0.13094" stop-color="#020104"/><stop offset="0.13134" stop-color="#060206"/><stop offset="0.13175" stop-color="#0c0608"/><stop offset="0.13211" stop-color="#160c0c"/><stop offset="0.13247" stop-color="#221411"/><stop offset="0.13284" stop-color="#312017"/><stop offset="0.13316" stop-color="#412b1d"/><stop offset="0.13405" stop-color="#6f4e2e"/><stop offset="0.13429" stop-color="#7a5632"/><stop offset="0.13454" stop-color="#845e36"/><stop offset="0.13482" stop-color="#8e653a"/><stop offset="0.13506" stop-color="#946a3c"/><stop offset="0.13530" stop-color="#976c3d"/><stop offset="0.13555" stop-color="#996d3e"/><stop offset="0.13579" stop-color="#986d3d"/><stop offset="0.13607" stop-color="#93693c"/><stop offset="0.13631" stop-color="#8d6539"/><stop offset="0.13660" stop-color="#845e36"/><stop offset="0.13684" stop-color="#7a5632"/><stop offset="0.13708" stop-color="#6e4e2e"/><stop offset="0.13793" stop-color="#422c1d"/><stop offset="0.13825" stop-color="#322117"/><stop offset="0.13858" stop-color="#251612"/><stop offset="0.13890" stop-color="#190e0e"/><stop offset="0.13922" stop-color="#10080a"/><stop offset="0.13955" stop-color="#090407"/><stop offset="0.13991" stop-color="#040105"/><stop offset="0.14028" stop-color="#010004"/><stop offset="0.14108" stop-color="#000003"/><stop offset="0.14165" stop-color="#000003"/><stop offset="0.14201" stop-color="#010004"/><stop offset="0.14230" stop-color="#030105"/><stop offset="0.14254" stop-color="#060206"/><stop offset="0.14278" stop-color="#090407"/><stop offset="0.14302" stop-color="#0e0709"/><stop offset="0.14327" stop-color="#150a0b"/><stop offset="0.14347" stop-color="#1b0e0d"/><stop offset="0.14367" stop-color="#22130f"/><stop offset="0.14391" stop-color="#2c1912"/><stop offset="0.14428" stop-color="#3d2416"/><stop offset="0.14521" stop-color="#6c4423"/><stop offset="0.14545" stop-color="#774b25"/><stop offset="0.14569" stop-color="#815228"/><stop offset="0.14598" stop-color="#8a582a"/><stop offset="0.14622" stop-color="#905b2c"/><stop offset="0.14646" stop-color="#945e2d"/><stop offset="0.14670" stop-color="#955f2d"/><stop offset="0.14695" stop-color="#945e2d"/><stop offset="0.14723" stop-color="#8f5b2c"/><stop offset="0.14747" stop-color="#89572a"/><stop offset="0.14775" stop-color="#805128"/><stop offset="0.14800" stop-color="#764a25"/><stop offset="0.14824" stop-color="#6b4322"/><stop offset="0.14905" stop-color="#422718"/><stop offset="0.14937" stop-color="#321d13"/><stop offset="0.14969" stop-color="#241410"/><stop offset="0.14998" stop-color="#1a0d0d"/><stop offset="0.15026" stop-color="#12080a"/><stop offset="0.15058" stop-color="#0a0408"/><stop offset="0.15087" stop-color="#060206"/><stop offset="0.15119" stop-color="#030105"/><stop offset="0.15159" stop-color="#010004"/><stop offset="0.15212" stop-color="#000003"/><stop offset="0.16599" stop-color="#000003"/><stop offset="0.16651" stop-color="#020104"/><stop offset="0.16696" stop-color="#060206"/><stop offset="0.16736" stop-color="#0d0609"/><stop offset="0.16776" stop-color="#170c0d"/><stop offset="0.16813" stop-color="#241411"/><stop offset="0.16849" stop-color="#341f16"/><stop offset="0.16886" stop-color="#462c1c"/><stop offset="0.16975" stop-color="#754e2a"/><stop offset="0.16999" stop-color="#81572e"/><stop offset="0.17023" stop-color="#8b5e31"/><stop offset="0.17051" stop-color="#946534"/><stop offset="0.17076" stop-color="#9a6935"/><stop offset="0.17100" stop-color="#9e6c37"/><stop offset="0.17124" stop-color="#9f6d37"/><stop offset="0.17148" stop-color="#9e6c37"/><stop offset="0.17177" stop-color="#9a6935"/><stop offset="0.17201" stop-color="#936433"/><stop offset="0.17229" stop-color="#895d30"/><stop offset="0.17254" stop-color="#7f552d"/><stop offset="0.17278" stop-color="#734d2a"/><stop offset="0.17363" stop-color="#462c1c"/><stop offset="0.17395" stop-color="#362117"/><stop offset="0.17431" stop-color="#261612"/><stop offset="0.17464" stop-color="#1a0e0e"/><stop offset="0.17496" stop-color="#11080a"/><stop offset="0.17532" stop-color="#090407"/><stop offset="0.17569" stop-color="#040105"/><stop offset="0.17609" stop-color="#010004"/><stop offset="0.17670" stop-color="#000003"/><stop offset="0.17925" stop-color="#000003"/><stop offset="0.17981" stop-color="#020105"/><stop offset="0.18030" stop-color="#080208"/><stop offset="0.18054" stop-color="#0c040a"/><stop offset="0.18078" stop-color="#11060c"/><stop offset="0.18102" stop-color="#18080f"/><stop offset="0.18127" stop-color="#200b11"/><stop offset="0.18167" stop-color="#301116"/><stop offset="0.18264" stop-color="#5a2123"/><stop offset="0.18292" stop-color="#642527"/><stop offset="0.18317" stop-color="#6c2829"/><stop offset="0.18341" stop-color="#732b2b"/><stop offset="0.18365" stop-color="#782c2d"/><stop offset="0.18389" stop-color="#7a2d2e"/><stop offset="0.18414" stop-color="#7b2e2e"/><stop offset="0.18438" stop-color="#7a2d2e"/><stop offset="0.18462" stop-color="#772c2d"/><stop offset="0.18486" stop-color="#722a2b"/><stop offset="0.18515" stop-color="#6a2729"/><stop offset="0.18539" stop-color="#622426"/><stop offset="0.18563" stop-color="#592123"/><stop offset="0.18676" stop-color="#280e14"/><stop offset="0.18709" stop-color="#1d0a10"/><stop offset="0.18737" stop-color="#14070d"/><stop offset="0.18765" stop-color="#0d040b"/><stop offset="0.18794" stop-color="#080208"/><stop offset="0.18826" stop-color="#040106"/><stop offset="0.18858" stop-color="#020005"/><stop offset="0.18895" stop-color="#000003"/><stop offset="0.18947" stop-color="#000003"/><stop offset="0.20912" stop-color="#000003"/><stop offset="0.20969" stop-color="#020004"/><stop offset="0.21017" stop-color="#060207"/><stop offset="0.21041" stop-color="#0a0408"/><stop offset="0.21062" stop-color="#0e060a"/><stop offset="0.21102" stop-color="#190c0d"/><stop offset="0.21142" stop-color="#281512"/><stop offset="0.21183" stop-color="#3a2218"/><stop offset="0.21223" stop-color="#4f311e"/><stop offset="0.21312" stop-color="#80552b"/><stop offset="0.21336" stop-color="#8d5d2f"/><stop offset="0.21361" stop-color="#976532"/><stop offset="0.21389" stop-color="#a26c34"/><stop offset="0.21413" stop-color="#a87136"/><stop offset="0.21438" stop-color="#ac7437"/><stop offset="0.21462" stop-color="#ad7538"/><stop offset="0.21486" stop-color="#ac7437"/><stop offset="0.21514" stop-color="#a87136"/><stop offset="0.21539" stop-color="#a16c34"/><stop offset="0.21567" stop-color="#976431"/><stop offset="0.21591" stop-color="#8c5d2e"/><stop offset="0.21615" stop-color="#80542b"/><stop offset="0.21700" stop-color="#50311e"/><stop offset="0.21737" stop-color="#3d2419"/><stop offset="0.21773" stop-color="#2c1814"/><stop offset="0.21805" stop-color="#1f1010"/><stop offset="0.21838" stop-color="#15090c"/><stop offset="0.21870" stop-color="#0d0509"/><stop offset="0.21902" stop-color="#070207"/><stop offset="0.21935" stop-color="#030105"/><stop offset="0.21979" stop-color="#010004"/><stop offset="0.22036" stop-color="#000003"/><stop offset="0.23418" stop-color="#000003"/><stop offset="0.23475" stop-color="#020004"/><stop offset="0.23523" stop-color="#060207"/><stop offset="0.23548" stop-color="#0a0408"/><stop offset="0.23568" stop-color="#0e050a"/><stop offset="0.23592" stop-color="#14090c"/><stop offset="0.23612" stop-color="#1a0c0e"/><stop offset="0.23633" stop-color="#211011"/><stop offset="0.23657" stop-color="#2b1714"/><stop offset="0.23701" stop-color="#40251b"/><stop offset="0.23742" stop-color="#553522"/><stop offset="0.23831" stop-color="#885c30"/><stop offset="0.23855" stop-color="#956634"/><stop offset="0.23879" stop-color="#a06e37"/><stop offset="0.23908" stop-color="#ab773a"/><stop offset="0.23932" stop-color="#b27c3c"/><stop offset="0.23960" stop-color="#b7803e"/><stop offset="0.23984" stop-color="#b8813e"/><stop offset="0.24009" stop-color="#b7803e"/><stop offset="0.24037" stop-color="#b27c3c"/><stop offset="0.24061" stop-color="#ab773a"/><stop offset="0.24089" stop-color="#a16f37"/><stop offset="0.24114" stop-color="#956634"/><stop offset="0.24138" stop-color="#895d31"/><stop offset="0.24231" stop-color="#543421"/><stop offset="0.24275" stop-color="#3c231a"/><stop offset="0.24304" stop-color="#2f1915"/><stop offset="0.24328" stop-color="#251312"/><stop offset="0.24352" stop-color="#1c0d0f"/><stop offset="0.24376" stop-color="#14090c"/><stop offset="0.24401" stop-color="#0e060a"/><stop offset="0.24429" stop-color="#090308"/><stop offset="0.24453" stop-color="#050206"/><stop offset="0.24482" stop-color="#020105"/><stop offset="0.24538" stop-color="#000003"/><stop offset="0.24647" stop-color="#000003"/><stop offset="0.24704" stop-color="#020005"/><stop offset="0.24748" stop-color="#050107"/><stop offset="0.24793" stop-color="#0c030b"/><stop offset="0.24833" stop-color="#15070f"/><stop offset="0.24870" stop-color="#210b13"/><stop offset="0.24906" stop-color="#2f1018"/><stop offset="0.24942" stop-color="#40171d"/><stop offset="0.25027" stop-color="#692629"/><stop offset="0.25052" stop-color="#732b2c"/><stop offset="0.25072" stop-color="#7b2e2e"/><stop offset="0.25096" stop-color="#833130"/><stop offset="0.25120" stop-color="#8a3332"/><stop offset="0.25145" stop-color="#8e3533"/><stop offset="0.25169" stop-color="#903634"/><stop offset="0.25193" stop-color="#903534"/><stop offset="0.25221" stop-color="#8d3433"/><stop offset="0.25246" stop-color="#883232"/><stop offset="0.25274" stop-color="#802f2f"/><stop offset="0.25298" stop-color="#772c2d"/><stop offset="0.25326" stop-color="#6b2729"/><stop offset="0.25403" stop-color="#46191f"/><stop offset="0.25432" stop-color="#3a141c"/><stop offset="0.25460" stop-color="#2f101a"/><stop offset="0.25484" stop-color="#270d18"/><stop offset="0.25512" stop-color="#210a17"/><stop offset="0.25537" stop-color="#1e0916"/><stop offset="0.25561" stop-color="#1e0916"/><stop offset="0.25585" stop-color="#210a16"/><stop offset="0.25605" stop-color="#250c17"/><stop offset="0.25630" stop-color="#2b1018"/><stop offset="0.25654" stop-color="#341419"/><stop offset="0.25682" stop-color="#411a1b"/><stop offset="0.25710" stop-color="#4f221d"/><stop offset="0.25739" stop-color="#5f2b1f"/><stop offset="0.25787" stop-color="#7c3b22"/><stop offset="0.25840" stop-color="#9b4e24"/><stop offset="0.25868" stop-color="#a95724"/><stop offset="0.25892" stop-color="#b45e25"/><stop offset="0.25921" stop-color="#bf6525"/><stop offset="0.25945" stop-color="#c56925"/><stop offset="0.25969" stop-color="#c96c25"/><stop offset="0.25993" stop-color="#cb6d25"/><stop offset="0.26018" stop-color="#ca6d24"/><stop offset="0.26046" stop-color="#c56b24"/><stop offset="0.26074" stop-color="#bd6623"/><stop offset="0.26103" stop-color="#b16022"/><stop offset="0.26127" stop-color="#a65a21"/><stop offset="0.26155" stop-color="#975120"/><stop offset="0.26252" stop-color="#5d2f1b"/><stop offset="0.26293" stop-color="#472218"/><stop offset="0.26333" stop-color="#331715"/><stop offset="0.26369" stop-color="#230f11"/><stop offset="0.26402" stop-color="#18090e"/><stop offset="0.26438" stop-color="#0e050b"/><stop offset="0.26475" stop-color="#080208"/><stop offset="0.26511" stop-color="#030106"/><stop offset="0.26555" stop-color="#010004"/><stop offset="0.26616" stop-color="#000003"/><stop offset="0.28411" stop-color="#000003"/><stop offset="0.28476" stop-color="#020005"/><stop offset="0.28524" stop-color="#060207"/><stop offset="0.28548" stop-color="#0a0309"/><stop offset="0.28573" stop-color="#0f050b"/><stop offset="0.28597" stop-color="#15080e"/><stop offset="0.28617" stop-color="#1c0b10"/><stop offset="0.28641" stop-color="#241012"/><stop offset="0.28666" stop-color="#2e1615"/><stop offset="0.28690" stop-color="#3a1d19"/><stop offset="0.28718" stop-color="#48271d"/><stop offset="0.28763" stop-color="#613823"/><stop offset="0.28852" stop-color="#955f2d"/><stop offset="0.28880" stop-color="#a46a30"/><stop offset="0.28904" stop-color="#b07333"/><stop offset="0.28932" stop-color="#ba7b35"/><stop offset="0.28957" stop-color="#c18036"/><stop offset="0.28985" stop-color="#c78437"/><stop offset="0.29009" stop-color="#c88537"/><stop offset="0.29033" stop-color="#c78437"/><stop offset="0.29062" stop-color="#c28136"/><stop offset="0.29090" stop-color="#ba7b35"/><stop offset="0.29118" stop-color="#af7232"/><stop offset="0.29143" stop-color="#a36a30"/><stop offset="0.29171" stop-color="#945e2d"/><stop offset="0.29256" stop-color="#633923"/><stop offset="0.29300" stop-color="#49271d"/><stop offset="0.29324" stop-color="#3d1f1a"/><stop offset="0.29349" stop-color="#311816"/><stop offset="0.29373" stop-color="#271213"/><stop offset="0.29397" stop-color="#1e0d10"/><stop offset="0.29417" stop-color="#17090e"/><stop offset="0.29438" stop-color="#12070d"/><stop offset="0.29458" stop-color="#0e050b"/><stop offset="0.29478" stop-color="#0b030b"/><stop offset="0.29498" stop-color="#09030a"/><stop offset="0.29514" stop-color="#08020a"/><stop offset="0.29535" stop-color="#09030a"/><stop offset="0.29555" stop-color="#0b030b"/><stop offset="0.29587" stop-color="#11060d"/><stop offset="0.29624" stop-color="#1b0b10"/><stop offset="0.29660" stop-color="#291214"/><stop offset="0.29700" stop-color="#3b1d19"/><stop offset="0.29729" stop-color="#4a271d"/><stop offset="0.29761" stop-color="#5c3422"/><stop offset="0.29818" stop-color="#7d4c29"/><stop offset="0.29870" stop-color="#9b632f"/><stop offset="0.29899" stop-color="#aa6f31"/><stop offset="0.29927" stop-color="#b77834"/><stop offset="0.29951" stop-color="#c07f35"/><stop offset="0.29975" stop-color="#c68437"/><stop offset="0.30000" stop-color="#ca8737"/><stop offset="0.30024" stop-color="#cc8838"/><stop offset="0.30048" stop-color="#cb8737"/><stop offset="0.30076" stop-color="#c68437"/><stop offset="0.30105" stop-color="#be7e35"/><stop offset="0.30133" stop-color="#b37533"/><stop offset="0.30157" stop-color="#a76d31"/><stop offset="0.30186" stop-color="#98612e"/><stop offset="0.30270" stop-color="#673b24"/><stop offset="0.30315" stop-color="#4d291e"/><stop offset="0.30339" stop-color="#40211b"/><stop offset="0.30363" stop-color="#351918"/><stop offset="0.30388" stop-color="#2a1314"/><stop offset="0.30412" stop-color="#200e12"/><stop offset="0.30452" stop-color="#14070d"/><stop offset="0.30493" stop-color="#0a030a"/><stop offset="0.30533" stop-color="#050107"/><stop offset="0.30582" stop-color="#010004"/><stop offset="0.30675" stop-color="#000003"/><stop offset="0.30804" stop-color="#000003"/><stop offset="0.30861" stop-color="#010004"/><stop offset="0.30893" stop-color="#020106"/><stop offset="0.30925" stop-color="#050108"/><stop offset="0.30954" stop-color="#09020a"/><stop offset="0.30978" stop-color="#0d040d"/><stop offset="0.31006" stop-color="#140610"/><stop offset="0.31030" stop-color="#1b0814"/><stop offset="0.31059" stop-color="#240b17"/><stop offset="0.31087" stop-color="#30101b"/><stop offset="0.31136" stop-color="#461822"/><stop offset="0.31241" stop-color="#7c2d30"/><stop offset="0.31265" stop-color="#873133"/><stop offset="0.31289" stop-color="#913535"/><stop offset="0.31313" stop-color="#993837"/><stop offset="0.31338" stop-color="#9f3a39"/><stop offset="0.31362" stop-color="#a33c3a"/><stop offset="0.31386" stop-color="#a43c3a"/><stop offset="0.31410" stop-color="#a33c3a"/><stop offset="0.31439" stop-color="#9f3a39"/><stop offset="0.31463" stop-color="#993837"/><stop offset="0.31491" stop-color="#8f3435"/><stop offset="0.31516" stop-color="#853032"/><stop offset="0.31540" stop-color="#7a2c30"/><stop offset="0.31633" stop-color="#4a1a23"/><stop offset="0.31669" stop-color="#39131e"/><stop offset="0.31706" stop-color="#290d19"/><stop offset="0.31738" stop-color="#1d0915"/><stop offset="0.31766" stop-color="#150611"/><stop offset="0.31799" stop-color="#0d040d"/><stop offset="0.31831" stop-color="#08020a"/><stop offset="0.31867" stop-color="#030107"/><stop offset="0.31920" stop-color="#010004"/><stop offset="0.32001" stop-color="#000003"/><stop offset="0.33266" stop-color="#000003"/><stop offset="0.33323" stop-color="#000004"/><stop offset="0.33371" stop-color="#020005"/><stop offset="0.33411" stop-color="#050108"/><stop offset="0.33452" stop-color="#0a030c"/><stop offset="0.33492" stop-color="#130511"/><stop offset="0.33529" stop-color="#1e0916"/><stop offset="0.33565" stop-color="#2b0d1b"/><stop offset="0.33606" stop-color="#3d1421"/><stop offset="0.33642" stop-color="#4f1b26"/><stop offset="0.33735" stop-color="#802e31"/><stop offset="0.33759" stop-color="#8b3334"/><stop offset="0.33783" stop-color="#963736"/><stop offset="0.33812" stop-color="#a03b38"/><stop offset="0.33840" stop-color="#a73e3a"/><stop offset="0.33868" stop-color="#ac3f3b"/><stop offset="0.33893" stop-color="#ad403b"/><stop offset="0.33917" stop-color="#ac3f3b"/><stop offset="0.33941" stop-color="#a83e3a"/><stop offset="0.33965" stop-color="#a23c39"/><stop offset="0.33990" stop-color="#9a3937"/><stop offset="0.34014" stop-color="#913535"/><stop offset="0.34038" stop-color="#853033"/><stop offset="0.34099" stop-color="#66242c"/><stop offset="0.34159" stop-color="#461824"/><stop offset="0.34188" stop-color="#391320"/><stop offset="0.34216" stop-color="#2c0e1c"/><stop offset="0.34248" stop-color="#200a17"/><stop offset="0.34277" stop-color="#170713"/><stop offset="0.34309" stop-color="#0f040f"/><stop offset="0.34341" stop-color="#09020b"/><stop offset="0.34370" stop-color="#050108"/><stop offset="0.34398" stop-color="#030106"/><stop offset="0.34463" stop-color="#000004"/><stop offset="0.35000" stop-color="#000003"/><stop offset="0.35069" stop-color="#020005"/><stop offset="0.35097" stop-color="#040107"/><stop offset="0.35121" stop-color="#070209"/><stop offset="0.35146" stop-color="#0a030b"/><stop offset="0.35170" stop-color="#0f050d"/><stop offset="0.35194" stop-color="#160710"/><stop offset="0.35214" stop-color="#1c0912"/><stop offset="0.35243" stop-color="#260e16"/><stop offset="0.35275" stop-color="#34141a"/><stop offset="0.35307" stop-color="#431d1d"/><stop offset="0.35340" stop-color="#552720"/><stop offset="0.35376" stop-color="#6a3323"/><stop offset="0.35417" stop-color="#824326"/><stop offset="0.35453" stop-color="#975127"/><stop offset="0.35489" stop-color="#ac6027"/><stop offset="0.35530" stop-color="#c16f25"/><stop offset="0.35570" stop-color="#d37d23"/><stop offset="0.35594" stop-color="#dc8421"/><stop offset="0.35619" stop-color="#e38b1f"/><stop offset="0.35639" stop-color="#e98f1d"/><stop offset="0.35663" stop-color="#ee941a"/><stop offset="0.35687" stop-color="#f29718"/><stop offset="0.35712" stop-color="#f59a16"/><stop offset="0.35736" stop-color="#f69a15"/><stop offset="0.35760" stop-color="#f79a14"/><stop offset="0.35784" stop-color="#f69814"/><stop offset="0.35813" stop-color="#f49515"/><stop offset="0.35837" stop-color="#f19116"/><stop offset="0.35861" stop-color="#ed8c17"/><stop offset="0.35886" stop-color="#e78619"/><stop offset="0.35906" stop-color="#e2801b"/><stop offset="0.35930" stop-color="#da791d"/><stop offset="0.35954" stop-color="#d1711f"/><stop offset="0.35991" stop-color="#c16522"/><stop offset="0.36027" stop-color="#ae5824"/><stop offset="0.36076" stop-color="#934625"/><stop offset="0.36124" stop-color="#763525"/><stop offset="0.36185" stop-color="#532221"/><stop offset="0.36229" stop-color="#3c171d"/><stop offset="0.36270" stop-color="#2a0f18"/><stop offset="0.36310" stop-color="#1b0913"/><stop offset="0.36334" stop-color="#140610"/><stop offset="0.36358" stop-color="#0e040e"/><stop offset="0.36383" stop-color="#0a030b"/><stop offset="0.36407" stop-color="#060209"/><stop offset="0.36435" stop-color="#030106"/><stop offset="0.36464" stop-color="#010005"/><stop offset="0.36536" stop-color="#000003"/><stop offset="0.37741" stop-color="#000003"/><stop offset="0.37818" stop-color="#010005"/><stop offset="0.37874" stop-color="#050108"/><stop offset="0.37911" stop-color="#09020c"/><stop offset="0.37943" stop-color="#0f0410"/><stop offset="0.37980" stop-color="#180715"/><stop offset="0.38012" stop-color="#220a1a"/><stop offset="0.38048" stop-color="#300f20"/><stop offset="0.38085" stop-color="#411426"/><stop offset="0.38117" stop-color="#511a2b"/><stop offset="0.38153" stop-color="#642130"/><stop offset="0.38218" stop-color="#862e37"/><stop offset="0.38246" stop-color="#93343a"/><stop offset="0.38271" stop-color="#9e383c"/><stop offset="0.38299" stop-color="#a83c3e"/><stop offset="0.38327" stop-color="#b03f3f"/><stop offset="0.38355" stop-color="#b54040"/><stop offset="0.38384" stop-color="#b64140"/><stop offset="0.38412" stop-color="#b54040"/><stop offset="0.38440" stop-color="#b03f3f"/><stop offset="0.38469" stop-color="#a93c3e"/><stop offset="0.38497" stop-color="#9f383c"/><stop offset="0.38521" stop-color="#94343a"/><stop offset="0.38550" stop-color="#872f38"/><stop offset="0.38618" stop-color="#632130"/><stop offset="0.38655" stop-color="#501a2b"/><stop offset="0.38687" stop-color="#401426"/><stop offset="0.38727" stop-color="#2e0e20"/><stop offset="0.38768" stop-color="#1f0919"/><stop offset="0.38808" stop-color="#130513"/><stop offset="0.38849" stop-color="#0b030d"/><stop offset="0.38889" stop-color="#050109"/><stop offset="0.38938" stop-color="#020005"/><stop offset="0.38982" stop-color="#000004"/><stop offset="0.39035" stop-color="#000003"/><stop offset="0.39649" stop-color="#000003"/><stop offset="0.39694" stop-color="#000004"/><stop offset="0.39734" stop-color="#020005"/><stop offset="0.39766" stop-color="#040108"/><stop offset="0.39799" stop-color="#07020b"/><stop offset="0.39835" stop-color="#0d030f"/><stop offset="0.39871" stop-color="#150515"/><stop offset="0.39904" stop-color="#1e081a"/><stop offset="0.39940" stop-color="#2b0c21"/><stop offset="0.39968" stop-color="#371026"/><stop offset="0.39997" stop-color="#43142b"/><stop offset="0.40070" stop-color="#672036"/><stop offset="0.40138" stop-color="#892c3f"/><stop offset="0.40163" stop-color="#943041"/><stop offset="0.40187" stop-color="#9d3344"/><stop offset="0.40211" stop-color="#a43645"/><stop offset="0.40235" stop-color="#aa3847"/><stop offset="0.40260" stop-color="#ae3948"/><stop offset="0.40284" stop-color="#b03a48"/><stop offset="0.40312" stop-color="#af3948"/><stop offset="0.40340" stop-color="#ab3847"/><stop offset="0.40369" stop-color="#a43545"/><stop offset="0.40397" stop-color="#9a3243"/><stop offset="0.40425" stop-color="#8f2e41"/><stop offset="0.40454" stop-color="#822a3e"/><stop offset="0.40506" stop-color="#682037"/><stop offset="0.40551" stop-color="#521930"/><stop offset="0.40579" stop-color="#45142c"/><stop offset="0.40611" stop-color="#371028"/><stop offset="0.40644" stop-color="#2c0c24"/><stop offset="0.40672" stop-color="#240a21"/><stop offset="0.40700" stop-color="#20081f"/><stop offset="0.40728" stop-color="#1e071f"/><stop offset="0.40757" stop-color="#1f081f"/><stop offset="0.40781" stop-color="#220920"/><stop offset="0.40809" stop-color="#280b22"/><stop offset="0.40834" stop-color="#2f0d25"/><stop offset="0.40862" stop-color="#3a1128"/><stop offset="0.40910" stop-color="#50182f"/><stop offset="0.40975" stop-color="#712438"/><stop offset="0.41028" stop-color="#8b2d3e"/><stop offset="0.41056" stop-color="#973241"/><stop offset="0.41084" stop-color="#a23643"/><stop offset="0.41113" stop-color="#ab3944"/><stop offset="0.41137" stop-color="#b13b45"/><stop offset="0.41161" stop-color="#b43d46"/><stop offset="0.41185" stop-color="#b63d46"/><stop offset="0.41210" stop-color="#b53d46"/><stop offset="0.41238" stop-color="#b13b45"/><stop offset="0.41262" stop-color="#ab3944"/><stop offset="0.41290" stop-color="#a23643"/><stop offset="0.41315" stop-color="#993341"/><stop offset="0.41339" stop-color="#8e2f3f"/><stop offset="0.41367" stop-color="#812a3c"/><stop offset="0.41408" stop-color="#6c2238"/><stop offset="0.41480" stop-color="#48152d"/><stop offset="0.41533" stop-color="#300e23"/><stop offset="0.41565" stop-color="#240a1e"/><stop offset="0.41598" stop-color="#1a0718"/><stop offset="0.41626" stop-color="#120513"/><stop offset="0.41658" stop-color="#0c030f"/><stop offset="0.41687" stop-color="#07020b"/><stop offset="0.41719" stop-color="#040108"/><stop offset="0.41751" stop-color="#020006"/><stop offset="0.41792" stop-color="#000004"/><stop offset="0.41856" stop-color="#000003"/><stop offset="0.42119" stop-color="#000003"/><stop offset="0.42172" stop-color="#000003"/><stop offset="0.42212" stop-color="#010005"/><stop offset="0.42265" stop-color="#040108"/><stop offset="0.42313" stop-color="#0a020e"/><stop offset="0.42358" stop-color="#120414"/><stop offset="0.42402" stop-color="#1e081c"/><stop offset="0.42438" stop-color="#2a0b23"/><stop offset="0.42479" stop-color="#3b102b"/><stop offset="0.42523" stop-color="#4f1733"/><stop offset="0.42580" stop-color="#6c213b"/><stop offset="0.42620" stop-color="#802840"/><stop offset="0.42661" stop-color="#942f43"/><stop offset="0.42689" stop-color="#a03444"/><stop offset="0.42717" stop-color="#ab3945"/><stop offset="0.42754" stop-color="#b83e45"/><stop offset="0.42790" stop-color="#c04145"/><stop offset="0.42822" stop-color="#c54345"/><stop offset="0.42855" stop-color="#c74445"/><stop offset="0.42883" stop-color="#c54345"/><stop offset="0.42915" stop-color="#c14145"/><stop offset="0.42944" stop-color="#ba3f45"/><stop offset="0.42976" stop-color="#b03b45"/><stop offset="0.43004" stop-color="#a63645"/><stop offset="0.43033" stop-color="#9a3244"/><stop offset="0.43073" stop-color="#872b41"/><stop offset="0.43110" stop-color="#75243e"/><stop offset="0.43150" stop-color="#601d39"/><stop offset="0.43198" stop-color="#491531"/><stop offset="0.43231" stop-color="#3a102b"/><stop offset="0.43259" stop-color="#2e0d25"/><stop offset="0.43295" stop-color="#21091e"/><stop offset="0.43332" stop-color="#170617"/><stop offset="0.43368" stop-color="#0e0311"/><stop offset="0.43409" stop-color="#08020c"/><stop offset="0.43441" stop-color="#040108"/><stop offset="0.43473" stop-color="#020006"/><stop offset="0.43514" stop-color="#010004"/><stop offset="0.43562" stop-color="#000003"/><stop offset="0.44270" stop-color="#000003"/><stop offset="0.44355" stop-color="#010004"/><stop offset="0.44415" stop-color="#040108"/><stop offset="0.44464" stop-color="#0a020d"/><stop offset="0.44488" stop-color="#0e0410"/><stop offset="0.44512" stop-color="#130514"/><stop offset="0.44557" stop-color="#20091b"/><stop offset="0.44593" stop-color="#2e0e21"/><stop offset="0.44630" stop-color="#3e1427"/><stop offset="0.44670" stop-color="#521b2c"/><stop offset="0.44722" stop-color="#6f2831"/><stop offset="0.44767" stop-color="#883434"/><stop offset="0.44811" stop-color="#a04034"/><stop offset="0.44844" stop-color="#b04833"/><stop offset="0.44872" stop-color="#bd4f32"/><stop offset="0.44908" stop-color="#ca5730"/><stop offset="0.44945" stop-color="#d45c2e"/><stop offset="0.44977" stop-color="#da5f2d"/><stop offset="0.45009" stop-color="#dc602d"/><stop offset="0.45042" stop-color="#da5f2d"/><stop offset="0.45074" stop-color="#d55d2e"/><stop offset="0.45111" stop-color="#cb5730"/><stop offset="0.45147" stop-color="#be5032"/><stop offset="0.45179" stop-color="#b04833"/><stop offset="0.45212" stop-color="#a04034"/><stop offset="0.45260" stop-color="#863234"/><stop offset="0.45305" stop-color="#6d2732"/><stop offset="0.45357" stop-color="#501b2c"/><stop offset="0.45402" stop-color="#3b1226"/><stop offset="0.45442" stop-color="#290c1f"/><stop offset="0.45482" stop-color="#1c0719"/><stop offset="0.45507" stop-color="#150515"/><stop offset="0.45535" stop-color="#0e0410"/><stop offset="0.45559" stop-color="#0a020d"/><stop offset="0.45588" stop-color="#06010a"/><stop offset="0.45616" stop-color="#030107"/><stop offset="0.45648" stop-color="#010005"/><stop offset="0.45725" stop-color="#000003"/><stop offset="0.46271" stop-color="#000003"/><stop offset="0.46315" stop-color="#010005"/><stop offset="0.46356" stop-color="#030107"/><stop offset="0.46392" stop-color="#06010b"/><stop offset="0.46424" stop-color="#0a020f"/><stop offset="0.46461" stop-color="#110414"/><stop offset="0.46493" stop-color="#19061a"/><stop offset="0.46529" stop-color="#240921"/><stop offset="0.46566" stop-color="#320d28"/><stop offset="0.46594" stop-color="#3e112d"/><stop offset="0.46622" stop-color="#4b1533"/><stop offset="0.46663" stop-color="#5e1c39"/><stop offset="0.46703" stop-color="#73233e"/><stop offset="0.46740" stop-color="#852a42"/><stop offset="0.46776" stop-color="#963044"/><stop offset="0.46804" stop-color="#a23546"/><stop offset="0.46829" stop-color="#ab3846"/><stop offset="0.46861" stop-color="#b53c47"/><stop offset="0.46889" stop-color="#bb3e47"/><stop offset="0.46918" stop-color="#bf4047"/><stop offset="0.46946" stop-color="#c14147"/><stop offset="0.46974" stop-color="#c04047"/><stop offset="0.47007" stop-color="#bb3e47"/><stop offset="0.47039" stop-color="#b43b47"/><stop offset="0.47075" stop-color="#a83746"/><stop offset="0.47104" stop-color="#9c3245"/><stop offset="0.47132" stop-color="#902e44"/><stop offset="0.47172" stop-color="#7c2741"/><stop offset="0.47213" stop-color="#681f3c"/><stop offset="0.47265" stop-color="#4e1634"/><stop offset="0.47306" stop-color="#3c102d"/><stop offset="0.47342" stop-color="#2d0c26"/><stop offset="0.47378" stop-color="#20081e"/><stop offset="0.47419" stop-color="#150517"/><stop offset="0.47459" stop-color="#0c0310"/><stop offset="0.47500" stop-color="#06020b"/><stop offset="0.47544" stop-color="#030107"/><stop offset="0.47609" stop-color="#000004"/><stop offset="0.47694" stop-color="#000003"/><stop offset="0.49945" stop-color="#000003"/><stop offset="0.50014" stop-color="#000004"/><stop offset="0.50067" stop-color="#010005"/><stop offset="0.50119" stop-color="#05010a"/><stop offset="0.50164" stop-color="#0a020f"/><stop offset="0.50208" stop-color="#120416"/><stop offset="0.50253" stop-color="#1e071f"/><stop offset="0.50293" stop-color="#2b0b27"/><stop offset="0.50334" stop-color="#3b102f"/><stop offset="0.50378" stop-color="#4f1637"/><stop offset="0.50435" stop-color="#6b2040"/><stop offset="0.50475" stop-color="#7f2744"/><stop offset="0.50519" stop-color="#942f47"/><stop offset="0.50552" stop-color="#a23448"/><stop offset="0.50580" stop-color="#ad3948"/><stop offset="0.50621" stop-color="#ba3e47"/><stop offset="0.50657" stop-color="#c24146"/><stop offset="0.50693" stop-color="#c74346"/><stop offset="0.50726" stop-color="#c84445"/><stop offset="0.50758" stop-color="#c74346"/><stop offset="0.50794" stop-color="#c14146"/><stop offset="0.50831" stop-color="#b93d47"/><stop offset="0.50867" stop-color="#ad3948"/><stop offset="0.50895" stop-color="#a23448"/><stop offset="0.50928" stop-color="#942f47"/><stop offset="0.50972" stop-color="#7f2745"/><stop offset="0.51017" stop-color="#691f40"/><stop offset="0.51077" stop-color="#4c1537"/><stop offset="0.51126" stop-color="#370f2d"/><stop offset="0.51170" stop-color="#260a24"/><stop offset="0.51211" stop-color="#1a061c"/><stop offset="0.51235" stop-color="#140517"/><stop offset="0.51263" stop-color="#0e0312"/><stop offset="0.51292" stop-color="#09020e"/><stop offset="0.51320" stop-color="#06010b"/><stop offset="0.51352" stop-color="#030108"/><stop offset="0.51385" stop-color="#010005"/><stop offset="0.51457" stop-color="#000003"/><stop offset="0.99616" stop-color="#000003"/><stop offset="1.00000" stop-color="#000002"/></radialGradient></defs><rect width="342" height="351" fill="url(#g3)"/><svg x="67" y="0" width="1" height="351" viewBox="67 0 1 351"><rect x="-2" y="-2" width="346" height="355" fill="#000003"/><rect x="-2" y="-2" width="346" height="355" fill="url(#g3)" transform="translate(0.228 0)" fill-opacity="0.621"/></svg><svg x="68" y="0" width="1" height="351" viewBox="68 0 1 351"><rect x="-2" y="-2" width="346" height="355" fill="#000003"/><rect x="-2" y="-2" width="346" height="355" fill="url(#g3)" transform="translate(-0.355 0)" fill-opacity="0.406"/></svg><svg x="135" y="0" width="1" height="351" viewBox="135 0 1 351"><rect x="-2" y="-2" width="346" height="355" fill="#000003"/><rect x="-2" y="-2" width="346" height="355" fill="url(#g3)" transform="translate(0.014 0)" fill-opacity="0.982"/></svg><svg x="136" y="0" width="1" height="351" viewBox="136 0 1 351"><rect x="-2" y="-2" width="346" height="355" fill="#000003"/><rect x="-2" y="-2" width="346" height="355" fill="url(#g3)" transform="translate(0.479 0)" fill-opacity="0.240"/><rect x="-2" y="-2" width="346" height="355" fill="url(#g3)" transform="translate(-0.768 0)" fill-opacity="0.024"/></svg><svg x="137" y="0" width="1" height="351" viewBox="137 0 1 351"><rect x="-2" y="-2" width="346" height="355" fill="#000003"/><rect x="-2" y="-2" width="346" height="355" fill="url(#g3)" transform="translate(-0.134 0)" fill-opacity="0.788"/></svg><svg x="204" y="0" width="1" height="351" viewBox="204 0 1 351"><rect x="-2" y="-2" width="346" height="355" fill="#000003"/><rect x="-2" y="-2" width="346" height="355" fill="url(#g3)" transform="translate(0.134 0)" fill-opacity="0.788"/></svg><svg x="205" y="0" width="1" height="351" viewBox="205 0 1 351"><rect x="-2" y="-2" width="346" height="355" fill="#000003"/><rect x="-2" y="-2" width="346" height="355" fill="url(#g3)" transform="translate(0.768 0)" fill-opacity="0.031"/><rect x="-2" y="-2" width="346" height="355" fill="url(#g3)" transform="translate(-0.479 0)" fill-opacity="0.235"/></svg><svg x="206" y="0" width="1" height="351" viewBox="206 0 1 351"><rect x="-2" y="-2" width="346" height="355" fill="#000003"/><rect x="-2" y="-2" width="346" height="355" fill="url(#g3)" transform="translate(-0.014 0)" fill-opacity="0.982"/></svg><svg x="273" y="0" width="1" height="351" viewBox="273 0 1 351"><rect x="-2" y="-2" width="346" height="355" fill="#000003"/><rect x="-2" y="-2" width="346" height="355" fill="url(#g3)" transform="translate(0.355 0)" fill-opacity="0.406"/></svg><svg x="274" y="0" width="1" height="351" viewBox="274 0 1 351"><rect x="-2" y="-2" width="346" height="355" fill="#000003"/><rect x="-2" y="-2" width="346" height="355" fill="url(#g3)" transform="translate(-0.228 0)" fill-opacity="0.621"/></svg><svg x="0" y="320" width="342" height="1" viewBox="0 320 342 1"><rect x="-2" y="-2" width="346" height="355" fill="#000003"/><rect x="-2" y="-2" width="346" height="355" fill="url(#g3)" transform="translate(0 0.220)" fill-opacity="0.635"/></svg><svg x="0" y="321" width="342" height="1" viewBox="0 321 342 1"><rect x="-2" y="-2" width="346" height="355" fill="#000003"/></svg><svg x="0" y="322" width="342" height="1" viewBox="0 322 342 1"><rect x="-2" y="-2" width="346" height="355" fill="#000003"/><rect x="-2" y="-2" width="346" height="355" fill="url(#g3)" transform="translate(0 -0.624)" fill-opacity="0.095"/></svg><svg x="0" y="323" width="342" height="1" viewBox="0 323 342 1"><rect x="-2" y="-2" width="346" height="355" fill="#000003"/><rect x="-2" y="-2" width="346" height="355" fill="url(#g3)" transform="translate(0 -0.060)" fill-opacity="0.913"/></svg><svg x="0" y="290" width="342" height="1" viewBox="0 290 342 1"><rect x="-2" y="-2" width="346" height="355" fill="#000003"/><rect x="-2" y="-2" width="346" height="355" fill="url(#g3)" transform="translate(0 0.008)" fill-opacity="0.991"/></svg><svg x="0" y="291" width="342" height="1" viewBox="0 291 342 1"><rect x="-2" y="-2" width="346" height="355" fill="#000003"/><rect x="-2" y="-2" width="346" height="355" fill="url(#g3)" transform="translate(0 0.440)" fill-opacity="0.283"/></svg><svg x="0" y="292" width="342" height="1" viewBox="0 292 342 1"><rect x="-2" y="-2" width="346" height="355" fill="#000003"/></svg><svg x="0" y="293" width="342" height="1" viewBox="0 293 342 1"><rect x="-2" y="-2" width="346" height="355" fill="#000003"/><rect x="-2" y="-2" width="346" height="355" fill="url(#g3)" transform="translate(0 -0.377)" fill-opacity="0.373"/></svg><svg x="0" y="261" width="342" height="1" viewBox="0 261 342 1"><rect x="-2" y="-2" width="346" height="355" fill="#000003"/><rect x="-2" y="-2" width="346" height="355" fill="url(#g3)" transform="translate(0 0.093)" fill-opacity="0.859"/></svg><svg x="0" y="262" width="342" height="1" viewBox="0 262 342 1"><rect x="-2" y="-2" width="346" height="355" fill="#000003"/><rect x="-2" y="-2" width="346" height="355" fill="url(#g3)" transform="translate(0 0.694)" fill-opacity="0.053"/></svg><svg x="0" y="263" width="342" height="1" viewBox="0 263 342 1"><rect x="-2" y="-2" width="346" height="355" fill="#000003"/><rect x="-2" y="-2" width="346" height="355" fill="url(#g3)" transform="translate(0 -0.825)" fill-opacity="0.010"/></svg><svg x="0" y="264" width="342" height="1" viewBox="0 264 342 1"><rect x="-2" y="-2" width="346" height="355" fill="#000003"/><rect x="-2" y="-2" width="346" height="355" fill="url(#g3)" transform="translate(0 -0.170)" fill-opacity="0.724"/></svg><svg x="0" y="232" width="342" height="1" viewBox="0 232 342 1"><rect x="-2" y="-2" width="346" height="355" fill="#000003"/><rect x="-2" y="-2" width="346" height="355" fill="url(#g3)" transform="translate(0 0.269)" fill-opacity="0.548"/></svg><svg x="0" y="233" width="342" height="1" viewBox="0 233 342 1"><rect x="-2" y="-2" width="346" height="355" fill="#000003"/></svg><svg x="0" y="234" width="342" height="1" viewBox="0 234 342 1"><rect x="-2" y="-2" width="346" height="355" fill="#000003"/><rect x="-2" y="-2" width="346" height="355" fill="url(#g3)" transform="translate(0 -0.561)" fill-opacity="0.147"/></svg><svg x="0" y="235" width="342" height="1" viewBox="0 235 342 1"><rect x="-2" y="-2" width="346" height="355" fill="#000003"/><rect x="-2" y="-2" width="346" height="355" fill="url(#g3)" transform="translate(0 -0.037)" fill-opacity="0.950"/></svg><svg x="0" y="202" width="342" height="1" viewBox="0 202 342 1"><rect x="-2" y="-2" width="346" height="355" fill="#000003"/><rect x="-2" y="-2" width="346" height="355" fill="url(#g3)" transform="translate(0 0.019)" fill-opacity="0.976"/></svg><svg x="0" y="203" width="342" height="1" viewBox="0 203 342 1"><rect x="-2" y="-2" width="346" height="355" fill="#000003"/><rect x="-2" y="-2" width="346" height="355" fill="url(#g3)" transform="translate(0 0.500)" fill-opacity="0.210"/></svg><svg x="0" y="204" width="342" height="1" viewBox="0 204 342 1"><rect x="-2" y="-2" width="346" height="355" fill="#000003"/></svg><svg x="0" y="205" width="342" height="1" viewBox="0 205 342 1"><rect x="-2" y="-2" width="346" height="355" fill="#000003"/><rect x="-2" y="-2" width="346" height="355" fill="url(#g3)" transform="translate(0 -0.322)" fill-opacity="0.460"/></svg><svg x="0" y="173" width="342" height="1" viewBox="0 173 342 1"><rect x="-2" y="-2" width="346" height="355" fill="#000003"/><rect x="-2" y="-2" width="346" height="355" fill="url(#g3)" transform="translate(0 0.129)" fill-opacity="0.796"/></svg><svg x="0" y="174" width="342" height="1" viewBox="0 174 342 1"><rect x="-2" y="-2" width="346" height="355" fill="#000003"/><rect x="-2" y="-2" width="346" height="355" fill="url(#g3)" transform="translate(0 0.759)" fill-opacity="0.026"/></svg><svg x="0" y="175" width="342" height="1" viewBox="0 175 342 1"><rect x="-2" y="-2" width="346" height="355" fill="#000003"/><rect x="-2" y="-2" width="346" height="355" fill="url(#g3)" transform="translate(0 -0.759)" fill-opacity="0.026"/></svg><svg x="0" y="176" width="342" height="1" viewBox="0 176 342 1"><rect x="-2" y="-2" width="346" height="355" fill="#000003"/><rect x="-2" y="-2" width="346" height="355" fill="url(#g3)" transform="translate(0 -0.129)" fill-opacity="0.796"/></svg><svg x="0" y="144" width="342" height="1" viewBox="0 144 342 1"><rect x="-2" y="-2" width="346" height="355" fill="#000003"/><rect x="-2" y="-2" width="346" height="355" fill="url(#g3)" transform="translate(0 0.322)" fill-opacity="0.460"/></svg><svg x="0" y="145" width="342" height="1" viewBox="0 145 342 1"><rect x="-2" y="-2" width="346" height="355" fill="#000003"/></svg><svg x="0" y="146" width="342" height="1" viewBox="0 146 342 1"><rect x="-2" y="-2" width="346" height="355" fill="#000003"/><rect x="-2" y="-2" width="346" height="355" fill="url(#g3)" transform="translate(0 -0.500)" fill-opacity="0.210"/></svg><svg x="0" y="147" width="342" height="1" viewBox="0 147 342 1"><rect x="-2" y="-2" width="346" height="355" fill="#000003"/><rect x="-2" y="-2" width="346" height="355" fill="url(#g3)" transform="translate(0 -0.019)" fill-opacity="0.976"/></svg><svg x="0" y="114" width="342" height="1" viewBox="0 114 342 1"><rect x="-2" y="-2" width="346" height="355" fill="#000003"/><rect x="-2" y="-2" width="346" height="355" fill="url(#g3)" transform="translate(0 0.037)" fill-opacity="0.950"/></svg><svg x="0" y="115" width="342" height="1" viewBox="0 115 342 1"><rect x="-2" y="-2" width="346" height="355" fill="#000003"/><rect x="-2" y="-2" width="346" height="355" fill="url(#g3)" transform="translate(0 0.561)" fill-opacity="0.147"/></svg><svg x="0" y="116" width="342" height="1" viewBox="0 116 342 1"><rect x="-2" y="-2" width="346" height="355" fill="#000003"/></svg><svg x="0" y="117" width="342" height="1" viewBox="0 117 342 1"><rect x="-2" y="-2" width="346" height="355" fill="#000003"/><rect x="-2" y="-2" width="346" height="355" fill="url(#g3)" transform="translate(0 -0.269)" fill-opacity="0.548"/></svg><svg x="0" y="85" width="342" height="1" viewBox="0 85 342 1"><rect x="-2" y="-2" width="346" height="355" fill="#000003"/><rect x="-2" y="-2" width="346" height="355" fill="url(#g3)" transform="translate(0 0.170)" fill-opacity="0.724"/></svg><svg x="0" y="86" width="342" height="1" viewBox="0 86 342 1"><rect x="-2" y="-2" width="346" height="355" fill="#000003"/><rect x="-2" y="-2" width="346" height="355" fill="url(#g3)" transform="translate(0 0.825)" fill-opacity="0.010"/></svg><svg x="0" y="87" width="342" height="1" viewBox="0 87 342 1"><rect x="-2" y="-2" width="346" height="355" fill="#000003"/><rect x="-2" y="-2" width="346" height="355" fill="url(#g3)" transform="translate(0 -0.694)" fill-opacity="0.053"/></svg><svg x="0" y="88" width="342" height="1" viewBox="0 88 342 1"><rect x="-2" y="-2" width="346" height="355" fill="#000003"/><rect x="-2" y="-2" width="346" height="355" fill="url(#g3)" transform="translate(0 -0.093)" fill-opacity="0.859"/></svg><svg x="0" y="56" width="342" height="1" viewBox="0 56 342 1"><rect x="-2" y="-2" width="346" height="355" fill="#000003"/><rect x="-2" y="-2" width="346" height="355" fill="url(#g3)" transform="translate(0 0.377)" fill-opacity="0.373"/></svg><svg x="0" y="57" width="342" height="1" viewBox="0 57 342 1"><rect x="-2" y="-2" width="346" height="355" fill="#000003"/></svg><svg x="0" y="58" width="342" height="1" viewBox="0 58 342 1"><rect x="-2" y="-2" width="346" height="355" fill="#000003"/><rect x="-2" y="-2" width="346" height="355" fill="url(#g3)" transform="translate(0 -0.440)" fill-opacity="0.283"/></svg><svg x="0" y="59" width="342" height="1" viewBox="0 59 342 1"><rect x="-2" y="-2" width="346" height="355" fill="#000003"/><rect x="-2" y="-2" width="346" height="355" fill="url(#g3)" transform="translate(0 -0.008)" fill-opacity="0.991"/></svg><svg x="0" y="26" width="342" height="1" viewBox="0 26 342 1"><rect x="-2" y="-2" width="346" height="355" fill="#000003"/><rect x="-2" y="-2" width="346" height="355" fill="url(#g3)" transform="translate(0 0.060)" fill-opacity="0.913"/></svg><svg x="0" y="27" width="342" height="1" viewBox="0 27 342 1"><rect x="-2" y="-2" width="346" height="355" fill="#000003"/><rect x="-2" y="-2" width="346" height="355" fill="url(#g3)" transform="translate(0 0.624)" fill-opacity="0.095"/></svg><svg x="0" y="28" width="342" height="1" viewBox="0 28 342 1"><rect x="-2" y="-2" width="346" height="355" fill="#000003"/></svg><svg x="0" y="29" width="342" height="1" viewBox="0 29 342 1"><rect x="-2" y="-2" width="346" height="355" fill="#000003"/><rect x="-2" y="-2" width="346" height="355" fill="url(#g3)" transform="translate(0 -0.220)" fill-opacity="0.635"/></svg></svg><div class="bd"></div></div>
<div class="t ti" style="left:477.27px;top:431.00px">alpha_Al2O3</div>
<div class="xk" style="left:478px;top:803px"></div>
<div class="t xl" style="left:478.40px;top:812.07px">0</div>
<div class="xk" style="left:547px;top:803px"></div>
<div class="t xl" style="left:546.15px;top:812.07px">500</div>
<div class="xk" style="left:616px;top:803px"></div>
<div class="t xl" style="left:615.52px;top:812.07px">1000</div>
<div class="xk" style="left:685px;top:803px"></div>
<div class="t xl" style="left:684.52px;top:812.07px">1500</div>
<div class="xk" style="left:755px;top:803px"></div>
<div class="t xl" style="left:754.52px;top:812.07px">2000</div>
<div class="yk" style="left:473px;top:802px"></div>
<div class="t yl" style="left:408.73px;top:797.07px">0</div>
<div class="yk" style="left:473px;top:733px"></div>
<div class="t yl" style="left:407.35px;top:728.07px">500</div>
<div class="yk" style="left:473px;top:664px"></div>
<div class="t yl" style="left:407.23px;top:658.07px">1000</div>
<div class="yk" style="left:473px;top:594px"></div>
<div class="t yl" style="left:407.23px;top:589.07px">1500</div>
<div class="yk" style="left:473px;top:525px"></div>
<div class="t yl" style="left:408.10px;top:520.07px">2000</div>
<div class="yk" style="left:473px;top:456px"></div>
<div class="t yl" style="left:408.10px;top:451.07px">2500</div>
</body></html>
